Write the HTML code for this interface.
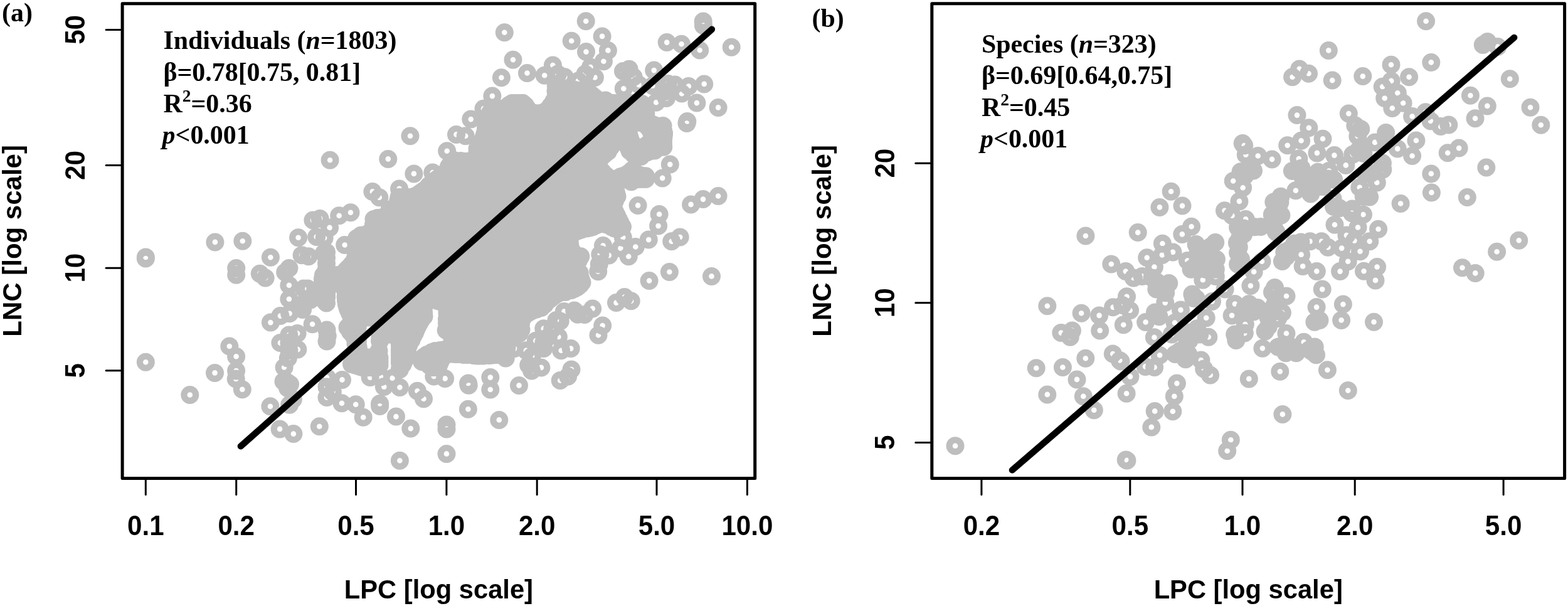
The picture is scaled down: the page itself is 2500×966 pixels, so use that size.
<!DOCTYPE html>
<html lang="en"><head><meta charset="utf-8"><title>LNC vs LPC scaling</title>
<style>
html,body{margin:0;padding:0;background:#fff;}
svg{display:block;}
.s{font-family:"Liberation Sans",Arial,Helvetica,sans-serif;font-weight:bold;font-size:41.7px;fill:#000;}
.t{font-family:"Liberation Serif","Times New Roman",Times,serif;font-weight:bold;font-size:41.9px;fill:#000;}
.i{font-style:italic;}
.p{fill:none;stroke:#bebebe;stroke-width:10.2;}
.ax{fill:none;stroke:#000;stroke-width:5;stroke-linejoin:round;}
.tk{fill:none;stroke:#000;stroke-width:3;stroke-linecap:round;}
.rl{fill:none;stroke:#000;stroke-width:10.4;stroke-linecap:round;}
</style></head><body>
<svg width="2500" height="966" viewBox="0 0 2500 966">
<rect x="0" y="0" width="2500" height="966" fill="#fff"/>
<g class="p"><circle cx="1121.2" cy="33.9" r="9.4"/><circle cx="1121.5" cy="40.7" r="9.4"/><circle cx="1063.2" cy="67.6" r="9.4"/><circle cx="1086.5" cy="70.2" r="9.4"/><circle cx="1115.7" cy="80.0" r="9.4"/><circle cx="1166.2" cy="75.3" r="9.4"/><circle cx="1042.7" cy="112.1" r="9.4"/><circle cx="1122.7" cy="133.9" r="9.4"/><circle cx="1097.9" cy="137.5" r="9.4"/><circle cx="1010.1" cy="122.7" r="9.4"/><circle cx="1003.1" cy="110.3" r="9.4"/><circle cx="1018.6" cy="135.1" r="9.4"/><circle cx="1040.4" cy="136.7" r="9.4"/><circle cx="1065.2" cy="133.6" r="9.4"/><circle cx="1076.1" cy="135.1" r="9.4"/><circle cx="1059.0" cy="146.0" r="9.4"/><circle cx="1087.0" cy="149.1" r="9.4"/><circle cx="1145.1" cy="171.4" r="9.4"/><circle cx="1110.9" cy="164.1" r="9.4"/><circle cx="1017.1" cy="327.4" r="9.4"/><circle cx="1051.1" cy="341.6" r="9.4"/><circle cx="1049.6" cy="360.1" r="9.4"/><circle cx="1034.2" cy="382.1" r="9.4"/><circle cx="1013.3" cy="393.5" r="9.4"/><circle cx="1101.6" cy="325.9" r="9.4"/><circle cx="1121.0" cy="317.6" r="9.4"/><circle cx="1145.1" cy="312.5" r="9.4"/><circle cx="1084.2" cy="378.0" r="9.4"/><circle cx="1070.7" cy="384.8" r="9.4"/><circle cx="1035.1" cy="447.5" r="9.4"/><circle cx="1067.4" cy="433.5" r="9.4"/><circle cx="1134.5" cy="440.4" r="9.4"/><circle cx="1002.2" cy="408.7" r="9.4"/><circle cx="232.3" cy="409.9" r="9.4"/><circle cx="232.3" cy="412.1" r="9.4"/><circle cx="342.9" cy="385.9" r="9.4"/><circle cx="386.8" cy="384.2" r="9.4"/><circle cx="431.4" cy="410.2" r="9.4"/><circle cx="475.6" cy="378.7" r="9.4"/><circle cx="498.9" cy="350.9" r="9.4"/><circle cx="376.7" cy="427.6" r="9.4"/><circle cx="376.7" cy="438.2" r="9.4"/><circle cx="414.3" cy="436.3" r="9.4"/><circle cx="423.1" cy="443.0" r="9.4"/><circle cx="460.9" cy="427.6" r="9.4"/><circle cx="454.7" cy="433.9" r="9.4"/><circle cx="481.1" cy="406.8" r="9.4"/><circle cx="491.9" cy="408.7" r="9.4"/><circle cx="232.3" cy="577.3" r="9.4"/><circle cx="365.8" cy="552.0" r="9.4"/><circle cx="376.6" cy="568.3" r="9.4"/><circle cx="342.5" cy="594.4" r="9.4"/><circle cx="376.6" cy="591.0" r="9.4"/><circle cx="431.4" cy="514.1" r="9.4"/><circle cx="446.9" cy="503.6" r="9.4"/><circle cx="461.6" cy="499.7" r="9.4"/><circle cx="460.9" cy="476.7" r="9.4"/><circle cx="460.9" cy="454.7" r="9.4"/><circle cx="484.2" cy="460.1" r="9.4"/><circle cx="490.4" cy="460.1" r="9.4"/><circle cx="482.6" cy="493.5" r="9.4"/><circle cx="495.0" cy="478.0" r="9.4"/><circle cx="498.1" cy="516.8" r="9.4"/><circle cx="460.9" cy="533.9" r="9.4"/><circle cx="474.1" cy="531.5" r="9.4"/><circle cx="446.9" cy="546.6" r="9.4"/><circle cx="460.9" cy="546.3" r="9.4"/><circle cx="474.8" cy="557.1" r="9.4"/><circle cx="460.9" cy="558.7" r="9.4"/><circle cx="459.3" cy="571.1" r="9.4"/><circle cx="453.1" cy="585.4" r="9.4"/><circle cx="302.8" cy="629.5" r="9.4"/><circle cx="386.3" cy="620.7" r="9.4"/><circle cx="376.2" cy="603.9" r="9.4"/><circle cx="430.9" cy="647.8" r="9.4"/><circle cx="446.1" cy="683.9" r="9.4"/><circle cx="467.9" cy="691.6" r="9.4"/><circle cx="457.8" cy="609.3" r="9.4"/><circle cx="458.5" cy="618.6" r="9.4"/><circle cx="467.4" cy="636.5" r="9.4"/><circle cx="461.6" cy="645.3" r="9.4"/><circle cx="526.1" cy="255.3" r="9.4"/><circle cx="618.8" cy="253.4" r="9.4"/><circle cx="654.0" cy="216.8" r="9.4"/><circle cx="659.9" cy="276.9" r="9.4"/><circle cx="784.9" cy="153.1" r="9.4"/><circle cx="689.8" cy="275.0" r="9.4"/><circle cx="712.7" cy="240.8" r="9.4"/><circle cx="727.5" cy="214.4" r="9.4"/><circle cx="750.8" cy="190.1" r="9.4"/><circle cx="771.0" cy="173.3" r="9.4"/><circle cx="790.4" cy="174.8" r="9.4"/><circle cx="636.6" cy="300.9" r="9.4"/><circle cx="742.2" cy="216.8" r="9.4"/><circle cx="723.6" cy="255.6" r="9.4"/><circle cx="593.9" cy="305.4" r="9.4"/><circle cx="604.8" cy="314.8" r="9.4"/><circle cx="621.1" cy="333.9" r="9.4"/><circle cx="559.0" cy="338.8" r="9.4"/><circle cx="540.7" cy="343.8" r="9.4"/><circle cx="510.1" cy="348.4" r="9.4"/><circle cx="525.6" cy="362.9" r="9.4"/><circle cx="517.1" cy="379.2" r="9.4"/><circle cx="549.7" cy="390.5" r="9.4"/><circle cx="504.7" cy="377.6" r="9.4"/><circle cx="521.0" cy="543.9" r="9.4"/><circle cx="521.0" cy="526.1" r="9.4"/><circle cx="711.2" cy="526.4" r="9.4"/><circle cx="672.7" cy="576.6" r="9.4"/><circle cx="637.4" cy="589.0" r="9.4"/><circle cx="509.3" cy="679.7" r="9.4"/><circle cx="545.5" cy="605.4" r="9.4"/><circle cx="521.0" cy="616.8" r="9.4"/><circle cx="530.3" cy="624.8" r="9.4"/><circle cx="521.0" cy="633.4" r="9.4"/><circle cx="545.0" cy="642.7" r="9.4"/><circle cx="567.2" cy="644.7" r="9.4"/><circle cx="579.2" cy="665.2" r="9.4"/><circle cx="605.6" cy="643.5" r="9.4"/><circle cx="605.6" cy="647.4" r="9.4"/><circle cx="612.3" cy="616.6" r="9.4"/><circle cx="637.4" cy="617.5" r="9.4"/><circle cx="625.5" cy="602.8" r="9.4"/><circle cx="590.1" cy="601.6" r="9.4"/><circle cx="607.1" cy="600.8" r="9.4"/><circle cx="631.5" cy="664.1" r="9.4"/><circle cx="654.8" cy="683.1" r="9.4"/><circle cx="665.4" cy="623.3" r="9.4"/><circle cx="675.5" cy="635.7" r="9.4"/><circle cx="691.8" cy="600.0" r="9.4"/><circle cx="709.6" cy="603.4" r="9.4"/><circle cx="746.6" cy="610.9" r="9.4"/><circle cx="747.2" cy="614.3" r="9.4"/><circle cx="781.8" cy="621.0" r="9.4"/><circle cx="781.8" cy="601.6" r="9.4"/><circle cx="746.4" cy="652.3" r="9.4"/><circle cx="712.0" cy="676.9" r="9.4"/><circle cx="712.0" cy="683.9" r="9.4"/><circle cx="795.8" cy="669.4" r="9.4"/><circle cx="712.0" cy="723.4" r="9.4"/><circle cx="637.4" cy="734.3" r="9.4"/><circle cx="804.3" cy="51.7" r="9.4"/><circle cx="818.0" cy="95.2" r="9.4"/><circle cx="799.4" cy="123.8" r="9.4"/><circle cx="840.5" cy="116.5" r="9.4"/><circle cx="868.2" cy="120.3" r="9.4"/><circle cx="881.4" cy="104.0" r="9.4"/><circle cx="911.2" cy="65.2" r="9.4"/><circle cx="934.2" cy="33.7" r="9.4"/><circle cx="960.1" cy="57.9" r="9.4"/><circle cx="934.5" cy="82.6" r="9.4"/><circle cx="969.4" cy="80.4" r="9.4"/><circle cx="962.4" cy="97.8" r="9.4"/><circle cx="941.5" cy="107.1" r="9.4"/><circle cx="948.4" cy="123.4" r="9.4"/><circle cx="900.3" cy="122.7" r="9.4"/><circle cx="889.4" cy="118.0" r="9.4"/><circle cx="932.9" cy="118.0" r="9.4"/><circle cx="922.0" cy="128.9" r="9.4"/><circle cx="886.3" cy="136.6" r="9.4"/><circle cx="993.5" cy="113.4" r="9.4"/><circle cx="994.3" cy="141.3" r="9.4"/><circle cx="965.4" cy="160.1" r="9.4"/><circle cx="1046.1" cy="163.2" r="9.4"/><circle cx="1062.4" cy="156.5" r="9.4"/><circle cx="1095.8" cy="193.5" r="9.4"/><circle cx="1095.0" cy="196.6" r="9.4"/><circle cx="1057.8" cy="234.2" r="9.4"/><circle cx="1068.3" cy="262.1" r="9.4"/><circle cx="1056.2" cy="283.9" r="9.4"/><circle cx="1029.5" cy="280.7" r="9.4"/><circle cx="989.4" cy="281.7" r="9.4"/><circle cx="1022.0" cy="249.4" r="9.4"/><circle cx="1057.0" cy="200.5" r="9.4"/><circle cx="1058.5" cy="212.1" r="9.4"/><circle cx="1008.1" cy="271.1" r="9.4"/><circle cx="1006.5" cy="289.8" r="9.4"/><circle cx="1043.8" cy="240.1" r="9.4"/><circle cx="1029.8" cy="181.1" r="9.4"/><circle cx="1023.6" cy="165.5" r="9.4"/><circle cx="989.4" cy="395.8" r="9.4"/><circle cx="925.8" cy="408.7" r="9.4"/><circle cx="953.7" cy="432.8" r="9.4"/><circle cx="993.3" cy="378.4" r="9.4"/><circle cx="961.5" cy="391.6" r="9.4"/><circle cx="956.8" cy="405.6" r="9.4"/><circle cx="970.8" cy="407.1" r="9.4"/><circle cx="955.3" cy="421.1" r="9.4"/><circle cx="924.2" cy="435.1" r="9.4"/><circle cx="982.5" cy="482.6" r="9.4"/><circle cx="995.7" cy="473.6" r="9.4"/><circle cx="1006.2" cy="479.8" r="9.4"/><circle cx="944.7" cy="491.9" r="9.4"/><circle cx="915.7" cy="495.0" r="9.4"/><circle cx="899.4" cy="496.6" r="9.4"/><circle cx="932.0" cy="501.6" r="9.4"/><circle cx="921.1" cy="501.2" r="9.4"/><circle cx="960.7" cy="519.1" r="9.4"/><circle cx="954.0" cy="534.3" r="9.4"/><circle cx="893.2" cy="512.1" r="9.4"/><circle cx="887.0" cy="510.6" r="9.4"/><circle cx="866.8" cy="523.8" r="9.4"/><circle cx="890.4" cy="537.0" r="9.4"/><circle cx="874.5" cy="537.0" r="9.4"/><circle cx="910.2" cy="555.6" r="9.4"/><circle cx="894.7" cy="558.7" r="9.4"/><circle cx="866.8" cy="555.6" r="9.4"/><circle cx="866.8" cy="546.3" r="9.4"/><circle cx="820.2" cy="555.6" r="9.4"/><circle cx="806.2" cy="571.1" r="9.4"/><circle cx="842.7" cy="582.0" r="9.4"/><circle cx="862.9" cy="585.9" r="9.4"/><circle cx="848.1" cy="568.0" r="9.4"/><circle cx="911.0" cy="589.0" r="9.4"/><circle cx="880.7" cy="524.5" r="9.4"/><circle cx="854.3" cy="543.2" r="9.4"/><circle cx="838.8" cy="558.7" r="9.4"/><circle cx="827.5" cy="614.4" r="9.4"/><circle cx="893.2" cy="606.5" r="9.4"/><circle cx="905.6" cy="600.0" r="9.4"/><circle cx="520.5" cy="402.0" r="9.4"/><circle cx="520.5" cy="411.0" r="9.4"/><circle cx="520.5" cy="420.0" r="9.4"/><circle cx="520.5" cy="429.0" r="9.4"/><circle cx="520.5" cy="438.0" r="9.4"/><circle cx="520.5" cy="447.0" r="9.4"/><circle cx="520.5" cy="456.0" r="9.4"/><circle cx="520.5" cy="465.0" r="9.4"/><circle cx="520.5" cy="474.0" r="9.4"/><circle cx="520.5" cy="483.0" r="9.4"/><circle cx="521.1" cy="601.8" r="9.4"/><circle cx="847.6" cy="591.1" r="9.4"/><circle cx="452.0" cy="608.0" r="9.4"/><circle cx="462.5" cy="612.5" r="9.4"/><circle cx="897.0" cy="149.3" r="9.4"/><circle cx="904.1" cy="148.3" r="9.4"/><circle cx="912.1" cy="149.6" r="9.4"/><circle cx="921.2" cy="147.7" r="9.4"/><circle cx="930.3" cy="149.4" r="9.4"/><circle cx="891.0" cy="155.5" r="9.4"/><circle cx="900.3" cy="157.1" r="9.4"/><circle cx="910.0" cy="156.4" r="9.4"/><circle cx="917.0" cy="155.6" r="9.4"/><circle cx="927.0" cy="156.1" r="9.4"/><circle cx="936.8" cy="155.4" r="9.4"/><circle cx="945.2" cy="156.4" r="9.4"/><circle cx="832.8" cy="164.6" r="9.4"/><circle cx="885.5" cy="164.6" r="9.4"/><circle cx="895.0" cy="163.9" r="9.4"/><circle cx="905.5" cy="165.1" r="9.4"/><circle cx="914.2" cy="162.7" r="9.4"/><circle cx="922.9" cy="164.1" r="9.4"/><circle cx="932.7" cy="164.4" r="9.4"/><circle cx="939.4" cy="164.1" r="9.4"/><circle cx="948.3" cy="163.5" r="9.4"/><circle cx="1013.8" cy="164.3" r="9.4"/><circle cx="1020.2" cy="164.7" r="9.4"/><circle cx="809.6" cy="170.8" r="9.4"/><circle cx="819.0" cy="170.1" r="9.4"/><circle cx="828.0" cy="170.7" r="9.4"/><circle cx="836.6" cy="171.3" r="9.4"/><circle cx="881.4" cy="171.2" r="9.4"/><circle cx="891.1" cy="170.2" r="9.4"/><circle cx="899.3" cy="170.1" r="9.4"/><circle cx="909.8" cy="170.0" r="9.4"/><circle cx="918.8" cy="170.4" r="9.4"/><circle cx="928.5" cy="171.0" r="9.4"/><circle cx="935.1" cy="170.3" r="9.4"/><circle cx="944.8" cy="170.7" r="9.4"/><circle cx="955.3" cy="170.1" r="9.4"/><circle cx="962.7" cy="170.9" r="9.4"/><circle cx="972.5" cy="171.5" r="9.4"/><circle cx="980.1" cy="171.9" r="9.4"/><circle cx="989.2" cy="171.6" r="9.4"/><circle cx="1000.1" cy="170.7" r="9.4"/><circle cx="1007.6" cy="172.9" r="9.4"/><circle cx="1015.8" cy="171.2" r="9.4"/><circle cx="786.8" cy="178.2" r="9.4"/><circle cx="797.7" cy="180.7" r="9.4"/><circle cx="805.8" cy="180.5" r="9.4"/><circle cx="813.1" cy="178.5" r="9.4"/><circle cx="823.1" cy="177.9" r="9.4"/><circle cx="832.9" cy="180.3" r="9.4"/><circle cx="842.7" cy="179.7" r="9.4"/><circle cx="851.9" cy="180.7" r="9.4"/><circle cx="876.2" cy="178.2" r="9.4"/><circle cx="887.5" cy="180.0" r="9.4"/><circle cx="895.7" cy="180.4" r="9.4"/><circle cx="904.1" cy="178.7" r="9.4"/><circle cx="914.4" cy="179.9" r="9.4"/><circle cx="922.1" cy="180.6" r="9.4"/><circle cx="931.9" cy="178.2" r="9.4"/><circle cx="939.9" cy="179.7" r="9.4"/><circle cx="950.2" cy="178.6" r="9.4"/><circle cx="959.7" cy="178.0" r="9.4"/><circle cx="969.0" cy="178.4" r="9.4"/><circle cx="977.5" cy="180.5" r="9.4"/><circle cx="986.8" cy="180.3" r="9.4"/><circle cx="995.7" cy="180.3" r="9.4"/><circle cx="1002.6" cy="179.6" r="9.4"/><circle cx="1012.2" cy="179.8" r="9.4"/><circle cx="1020.9" cy="179.0" r="9.4"/><circle cx="783.3" cy="188.4" r="9.4"/><circle cx="791.0" cy="186.0" r="9.4"/><circle cx="802.2" cy="186.1" r="9.4"/><circle cx="808.9" cy="186.6" r="9.4"/><circle cx="820.2" cy="188.4" r="9.4"/><circle cx="827.3" cy="185.8" r="9.4"/><circle cx="837.8" cy="188.3" r="9.4"/><circle cx="844.5" cy="186.5" r="9.4"/><circle cx="853.7" cy="187.8" r="9.4"/><circle cx="864.4" cy="186.7" r="9.4"/><circle cx="873.5" cy="185.7" r="9.4"/><circle cx="881.5" cy="186.2" r="9.4"/><circle cx="890.1" cy="187.6" r="9.4"/><circle cx="899.1" cy="187.8" r="9.4"/><circle cx="908.1" cy="186.3" r="9.4"/><circle cx="916.7" cy="185.7" r="9.4"/><circle cx="928.1" cy="188.1" r="9.4"/><circle cx="936.2" cy="187.8" r="9.4"/><circle cx="943.9" cy="187.2" r="9.4"/><circle cx="954.3" cy="187.4" r="9.4"/><circle cx="963.1" cy="185.8" r="9.4"/><circle cx="972.5" cy="187.1" r="9.4"/><circle cx="982.3" cy="186.0" r="9.4"/><circle cx="990.5" cy="188.0" r="9.4"/><circle cx="997.8" cy="187.2" r="9.4"/><circle cx="1007.2" cy="188.1" r="9.4"/><circle cx="1015.8" cy="187.2" r="9.4"/><circle cx="777.5" cy="193.5" r="9.4"/><circle cx="786.4" cy="194.4" r="9.4"/><circle cx="797.0" cy="194.2" r="9.4"/><circle cx="806.0" cy="194.9" r="9.4"/><circle cx="814.5" cy="194.7" r="9.4"/><circle cx="822.2" cy="194.8" r="9.4"/><circle cx="833.8" cy="195.7" r="9.4"/><circle cx="840.3" cy="194.3" r="9.4"/><circle cx="851.6" cy="194.1" r="9.4"/><circle cx="858.9" cy="194.6" r="9.4"/><circle cx="869.0" cy="193.8" r="9.4"/><circle cx="877.5" cy="193.7" r="9.4"/><circle cx="887.5" cy="195.1" r="9.4"/><circle cx="896.8" cy="194.3" r="9.4"/><circle cx="903.9" cy="195.5" r="9.4"/><circle cx="912.6" cy="195.9" r="9.4"/><circle cx="922.2" cy="194.0" r="9.4"/><circle cx="930.9" cy="196.2" r="9.4"/><circle cx="941.0" cy="195.3" r="9.4"/><circle cx="951.0" cy="194.0" r="9.4"/><circle cx="958.5" cy="194.2" r="9.4"/><circle cx="967.3" cy="195.9" r="9.4"/><circle cx="976.4" cy="194.5" r="9.4"/><circle cx="985.1" cy="193.9" r="9.4"/><circle cx="993.1" cy="193.8" r="9.4"/><circle cx="1003.0" cy="194.7" r="9.4"/><circle cx="1012.6" cy="194.6" r="9.4"/><circle cx="1022.4" cy="194.4" r="9.4"/><circle cx="1030.6" cy="194.6" r="9.4"/><circle cx="784.5" cy="203.8" r="9.4"/><circle cx="791.4" cy="201.4" r="9.4"/><circle cx="799.9" cy="204.1" r="9.4"/><circle cx="811.0" cy="202.1" r="9.4"/><circle cx="818.5" cy="202.6" r="9.4"/><circle cx="826.5" cy="203.1" r="9.4"/><circle cx="837.3" cy="201.2" r="9.4"/><circle cx="846.0" cy="201.8" r="9.4"/><circle cx="854.5" cy="204.1" r="9.4"/><circle cx="865.3" cy="201.3" r="9.4"/><circle cx="871.8" cy="203.9" r="9.4"/><circle cx="882.8" cy="204.0" r="9.4"/><circle cx="891.1" cy="204.0" r="9.4"/><circle cx="899.8" cy="201.7" r="9.4"/><circle cx="910.0" cy="203.1" r="9.4"/><circle cx="916.6" cy="202.5" r="9.4"/><circle cx="927.1" cy="203.2" r="9.4"/><circle cx="937.0" cy="201.4" r="9.4"/><circle cx="945.2" cy="201.2" r="9.4"/><circle cx="954.7" cy="203.2" r="9.4"/><circle cx="962.5" cy="201.4" r="9.4"/><circle cx="970.9" cy="204.0" r="9.4"/><circle cx="981.3" cy="202.7" r="9.4"/><circle cx="988.8" cy="201.6" r="9.4"/><circle cx="999.8" cy="202.7" r="9.4"/><circle cx="1034.4" cy="202.7" r="9.4"/><circle cx="1045.1" cy="204.0" r="9.4"/><circle cx="1052.8" cy="203.4" r="9.4"/><circle cx="779.8" cy="210.2" r="9.4"/><circle cx="786.4" cy="211.0" r="9.4"/><circle cx="797.4" cy="211.6" r="9.4"/><circle cx="806.4" cy="211.7" r="9.4"/><circle cx="815.4" cy="209.6" r="9.4"/><circle cx="823.3" cy="211.3" r="9.4"/><circle cx="831.0" cy="210.8" r="9.4"/><circle cx="841.2" cy="211.6" r="9.4"/><circle cx="849.3" cy="209.1" r="9.4"/><circle cx="859.8" cy="210.3" r="9.4"/><circle cx="869.7" cy="209.6" r="9.4"/><circle cx="878.7" cy="211.0" r="9.4"/><circle cx="886.1" cy="211.4" r="9.4"/><circle cx="896.3" cy="211.0" r="9.4"/><circle cx="905.3" cy="210.7" r="9.4"/><circle cx="914.9" cy="210.5" r="9.4"/><circle cx="921.3" cy="209.6" r="9.4"/><circle cx="932.7" cy="209.6" r="9.4"/><circle cx="941.5" cy="209.5" r="9.4"/><circle cx="949.6" cy="209.5" r="9.4"/><circle cx="959.0" cy="211.4" r="9.4"/><circle cx="968.5" cy="211.3" r="9.4"/><circle cx="975.1" cy="210.7" r="9.4"/><circle cx="985.0" cy="211.9" r="9.4"/><circle cx="994.5" cy="211.2" r="9.4"/><circle cx="1039.0" cy="209.0" r="9.4"/><circle cx="1048.9" cy="211.0" r="9.4"/><circle cx="773.8" cy="218.2" r="9.4"/><circle cx="784.3" cy="218.5" r="9.4"/><circle cx="790.9" cy="219.0" r="9.4"/><circle cx="799.8" cy="217.6" r="9.4"/><circle cx="810.6" cy="216.9" r="9.4"/><circle cx="820.3" cy="218.5" r="9.4"/><circle cx="828.4" cy="217.4" r="9.4"/><circle cx="838.0" cy="216.8" r="9.4"/><circle cx="846.2" cy="219.0" r="9.4"/><circle cx="854.6" cy="217.5" r="9.4"/><circle cx="864.5" cy="218.4" r="9.4"/><circle cx="874.2" cy="218.3" r="9.4"/><circle cx="883.3" cy="217.1" r="9.4"/><circle cx="889.9" cy="216.9" r="9.4"/><circle cx="899.2" cy="219.2" r="9.4"/><circle cx="910.4" cy="218.6" r="9.4"/><circle cx="918.6" cy="217.0" r="9.4"/><circle cx="928.4" cy="218.4" r="9.4"/><circle cx="936.8" cy="218.4" r="9.4"/><circle cx="944.6" cy="219.3" r="9.4"/><circle cx="952.7" cy="218.9" r="9.4"/><circle cx="962.2" cy="217.7" r="9.4"/><circle cx="971.6" cy="217.1" r="9.4"/><circle cx="980.3" cy="218.0" r="9.4"/><circle cx="991.0" cy="217.2" r="9.4"/><circle cx="999.7" cy="216.8" r="9.4"/><circle cx="1043.3" cy="218.0" r="9.4"/><circle cx="1052.3" cy="219.3" r="9.4"/><circle cx="770.3" cy="226.5" r="9.4"/><circle cx="778.4" cy="225.5" r="9.4"/><circle cx="788.4" cy="226.5" r="9.4"/><circle cx="797.4" cy="225.2" r="9.4"/><circle cx="805.6" cy="226.5" r="9.4"/><circle cx="813.7" cy="227.4" r="9.4"/><circle cx="823.9" cy="227.0" r="9.4"/><circle cx="832.6" cy="227.3" r="9.4"/><circle cx="841.2" cy="225.0" r="9.4"/><circle cx="851.6" cy="225.3" r="9.4"/><circle cx="858.2" cy="224.7" r="9.4"/><circle cx="868.5" cy="226.6" r="9.4"/><circle cx="877.5" cy="225.8" r="9.4"/><circle cx="886.3" cy="227.3" r="9.4"/><circle cx="896.0" cy="224.9" r="9.4"/><circle cx="903.9" cy="225.6" r="9.4"/><circle cx="912.8" cy="227.1" r="9.4"/><circle cx="923.8" cy="227.2" r="9.4"/><circle cx="931.7" cy="227.1" r="9.4"/><circle cx="940.8" cy="226.0" r="9.4"/><circle cx="948.1" cy="227.4" r="9.4"/><circle cx="958.1" cy="224.6" r="9.4"/><circle cx="968.0" cy="226.9" r="9.4"/><circle cx="976.2" cy="227.0" r="9.4"/><circle cx="1002.9" cy="224.5" r="9.4"/><circle cx="1039.2" cy="227.1" r="9.4"/><circle cx="1048.6" cy="225.3" r="9.4"/><circle cx="765.2" cy="234.0" r="9.4"/><circle cx="774.1" cy="235.1" r="9.4"/><circle cx="783.1" cy="233.6" r="9.4"/><circle cx="792.5" cy="234.3" r="9.4"/><circle cx="801.3" cy="233.3" r="9.4"/><circle cx="809.5" cy="234.4" r="9.4"/><circle cx="818.8" cy="234.9" r="9.4"/><circle cx="827.0" cy="233.2" r="9.4"/><circle cx="836.9" cy="233.8" r="9.4"/><circle cx="846.1" cy="234.8" r="9.4"/><circle cx="854.0" cy="233.6" r="9.4"/><circle cx="862.8" cy="234.0" r="9.4"/><circle cx="871.7" cy="232.9" r="9.4"/><circle cx="882.1" cy="232.4" r="9.4"/><circle cx="892.1" cy="234.3" r="9.4"/><circle cx="901.1" cy="233.4" r="9.4"/><circle cx="910.2" cy="232.7" r="9.4"/><circle cx="916.7" cy="232.5" r="9.4"/><circle cx="928.4" cy="235.2" r="9.4"/><circle cx="937.4" cy="233.1" r="9.4"/><circle cx="945.7" cy="232.4" r="9.4"/><circle cx="953.0" cy="232.6" r="9.4"/><circle cx="963.6" cy="234.2" r="9.4"/><circle cx="973.0" cy="235.0" r="9.4"/><circle cx="1006.7" cy="234.1" r="9.4"/><circle cx="1034.9" cy="234.1" r="9.4"/><circle cx="1043.6" cy="232.6" r="9.4"/><circle cx="762.0" cy="240.5" r="9.4"/><circle cx="770.8" cy="243.1" r="9.4"/><circle cx="777.6" cy="241.8" r="9.4"/><circle cx="786.3" cy="242.0" r="9.4"/><circle cx="795.2" cy="242.1" r="9.4"/><circle cx="806.0" cy="240.4" r="9.4"/><circle cx="815.6" cy="240.6" r="9.4"/><circle cx="824.8" cy="241.8" r="9.4"/><circle cx="834.0" cy="240.8" r="9.4"/><circle cx="842.2" cy="241.1" r="9.4"/><circle cx="850.8" cy="242.1" r="9.4"/><circle cx="860.9" cy="241.9" r="9.4"/><circle cx="868.9" cy="241.0" r="9.4"/><circle cx="878.4" cy="242.6" r="9.4"/><circle cx="886.2" cy="242.1" r="9.4"/><circle cx="894.9" cy="241.6" r="9.4"/><circle cx="904.2" cy="242.3" r="9.4"/><circle cx="913.3" cy="240.6" r="9.4"/><circle cx="922.9" cy="241.3" r="9.4"/><circle cx="930.3" cy="241.1" r="9.4"/><circle cx="940.9" cy="241.7" r="9.4"/><circle cx="950.3" cy="243.0" r="9.4"/><circle cx="957.8" cy="240.6" r="9.4"/><circle cx="966.3" cy="242.0" r="9.4"/><circle cx="1012.4" cy="240.7" r="9.4"/><circle cx="1020.2" cy="241.1" r="9.4"/><circle cx="1029.5" cy="240.6" r="9.4"/><circle cx="765.5" cy="248.9" r="9.4"/><circle cx="772.8" cy="248.4" r="9.4"/><circle cx="783.8" cy="249.6" r="9.4"/><circle cx="790.9" cy="249.7" r="9.4"/><circle cx="801.2" cy="250.0" r="9.4"/><circle cx="810.5" cy="248.0" r="9.4"/><circle cx="819.1" cy="249.4" r="9.4"/><circle cx="828.3" cy="250.0" r="9.4"/><circle cx="837.4" cy="248.5" r="9.4"/><circle cx="846.9" cy="250.7" r="9.4"/><circle cx="856.3" cy="248.1" r="9.4"/><circle cx="864.9" cy="250.2" r="9.4"/><circle cx="874.2" cy="248.2" r="9.4"/><circle cx="880.7" cy="249.6" r="9.4"/><circle cx="891.1" cy="249.9" r="9.4"/><circle cx="900.0" cy="249.2" r="9.4"/><circle cx="909.7" cy="250.2" r="9.4"/><circle cx="916.7" cy="250.7" r="9.4"/><circle cx="928.2" cy="249.4" r="9.4"/><circle cx="936.4" cy="250.8" r="9.4"/><circle cx="945.8" cy="249.3" r="9.4"/><circle cx="952.8" cy="248.3" r="9.4"/><circle cx="734.1" cy="257.6" r="9.4"/><circle cx="742.4" cy="258.1" r="9.4"/><circle cx="750.8" cy="256.5" r="9.4"/><circle cx="759.4" cy="257.3" r="9.4"/><circle cx="768.8" cy="257.8" r="9.4"/><circle cx="778.0" cy="257.6" r="9.4"/><circle cx="788.0" cy="257.2" r="9.4"/><circle cx="797.1" cy="256.5" r="9.4"/><circle cx="804.8" cy="258.7" r="9.4"/><circle cx="813.7" cy="256.3" r="9.4"/><circle cx="824.6" cy="256.0" r="9.4"/><circle cx="833.0" cy="258.5" r="9.4"/><circle cx="840.1" cy="258.0" r="9.4"/><circle cx="849.8" cy="257.9" r="9.4"/><circle cx="860.8" cy="256.2" r="9.4"/><circle cx="869.0" cy="258.1" r="9.4"/><circle cx="878.0" cy="257.0" r="9.4"/><circle cx="887.0" cy="258.6" r="9.4"/><circle cx="896.2" cy="255.9" r="9.4"/><circle cx="903.5" cy="258.4" r="9.4"/><circle cx="915.0" cy="257.4" r="9.4"/><circle cx="923.1" cy="256.2" r="9.4"/><circle cx="930.1" cy="256.5" r="9.4"/><circle cx="941.0" cy="258.0" r="9.4"/><circle cx="948.0" cy="257.3" r="9.4"/><circle cx="720.9" cy="264.3" r="9.4"/><circle cx="729.7" cy="265.8" r="9.4"/><circle cx="738.0" cy="263.8" r="9.4"/><circle cx="746.8" cy="264.1" r="9.4"/><circle cx="756.5" cy="264.4" r="9.4"/><circle cx="765.3" cy="263.7" r="9.4"/><circle cx="774.7" cy="266.0" r="9.4"/><circle cx="782.7" cy="263.7" r="9.4"/><circle cx="791.8" cy="265.9" r="9.4"/><circle cx="802.5" cy="265.5" r="9.4"/><circle cx="810.0" cy="264.5" r="9.4"/><circle cx="819.6" cy="265.9" r="9.4"/><circle cx="828.8" cy="264.8" r="9.4"/><circle cx="838.2" cy="264.5" r="9.4"/><circle cx="846.2" cy="263.5" r="9.4"/><circle cx="854.6" cy="265.8" r="9.4"/><circle cx="864.0" cy="264.4" r="9.4"/><circle cx="873.3" cy="266.3" r="9.4"/><circle cx="880.8" cy="264.3" r="9.4"/><circle cx="891.6" cy="265.6" r="9.4"/><circle cx="901.4" cy="265.8" r="9.4"/><circle cx="909.5" cy="265.6" r="9.4"/><circle cx="917.3" cy="264.9" r="9.4"/><circle cx="927.5" cy="263.6" r="9.4"/><circle cx="934.6" cy="263.5" r="9.4"/><circle cx="946.2" cy="263.6" r="9.4"/><circle cx="954.4" cy="264.5" r="9.4"/><circle cx="715.8" cy="271.9" r="9.4"/><circle cx="725.5" cy="274.0" r="9.4"/><circle cx="732.3" cy="273.5" r="9.4"/><circle cx="744.0" cy="272.2" r="9.4"/><circle cx="750.4" cy="272.0" r="9.4"/><circle cx="760.1" cy="273.2" r="9.4"/><circle cx="769.9" cy="272.9" r="9.4"/><circle cx="779.3" cy="273.0" r="9.4"/><circle cx="786.5" cy="272.8" r="9.4"/><circle cx="797.8" cy="271.6" r="9.4"/><circle cx="804.8" cy="273.2" r="9.4"/><circle cx="814.8" cy="274.0" r="9.4"/><circle cx="824.4" cy="272.0" r="9.4"/><circle cx="832.1" cy="272.1" r="9.4"/><circle cx="842.9" cy="272.7" r="9.4"/><circle cx="851.8" cy="272.2" r="9.4"/><circle cx="859.4" cy="272.5" r="9.4"/><circle cx="868.4" cy="273.8" r="9.4"/><circle cx="876.8" cy="272.9" r="9.4"/><circle cx="885.9" cy="272.2" r="9.4"/><circle cx="896.0" cy="272.7" r="9.4"/><circle cx="905.0" cy="273.9" r="9.4"/><circle cx="914.4" cy="273.6" r="9.4"/><circle cx="921.7" cy="273.4" r="9.4"/><circle cx="931.0" cy="271.9" r="9.4"/><circle cx="941.4" cy="273.8" r="9.4"/><circle cx="950.9" cy="273.7" r="9.4"/><circle cx="957.0" cy="272.9" r="9.4"/><circle cx="710.0" cy="281.1" r="9.4"/><circle cx="718.6" cy="280.7" r="9.4"/><circle cx="728.8" cy="279.3" r="9.4"/><circle cx="739.1" cy="281.2" r="9.4"/><circle cx="746.4" cy="281.9" r="9.4"/><circle cx="756.3" cy="281.6" r="9.4"/><circle cx="763.6" cy="280.0" r="9.4"/><circle cx="773.5" cy="279.5" r="9.4"/><circle cx="783.5" cy="279.9" r="9.4"/><circle cx="792.5" cy="281.9" r="9.4"/><circle cx="801.3" cy="280.2" r="9.4"/><circle cx="809.2" cy="281.1" r="9.4"/><circle cx="819.2" cy="281.4" r="9.4"/><circle cx="829.0" cy="281.2" r="9.4"/><circle cx="836.8" cy="279.4" r="9.4"/><circle cx="844.8" cy="279.9" r="9.4"/><circle cx="856.0" cy="281.1" r="9.4"/><circle cx="865.2" cy="280.6" r="9.4"/><circle cx="872.8" cy="280.8" r="9.4"/><circle cx="880.8" cy="279.6" r="9.4"/><circle cx="890.5" cy="280.5" r="9.4"/><circle cx="898.6" cy="281.1" r="9.4"/><circle cx="909.7" cy="279.9" r="9.4"/><circle cx="917.6" cy="280.9" r="9.4"/><circle cx="925.6" cy="281.8" r="9.4"/><circle cx="936.9" cy="279.4" r="9.4"/><circle cx="945.4" cy="280.3" r="9.4"/><circle cx="955.0" cy="280.4" r="9.4"/><circle cx="962.1" cy="279.7" r="9.4"/><circle cx="1000.1" cy="280.8" r="9.4"/><circle cx="1007.5" cy="281.2" r="9.4"/><circle cx="1018.4" cy="279.8" r="9.4"/><circle cx="697.6" cy="288.6" r="9.4"/><circle cx="705.1" cy="288.2" r="9.4"/><circle cx="715.6" cy="288.4" r="9.4"/><circle cx="723.8" cy="288.1" r="9.4"/><circle cx="732.3" cy="287.5" r="9.4"/><circle cx="743.7" cy="287.3" r="9.4"/><circle cx="751.3" cy="288.9" r="9.4"/><circle cx="761.1" cy="287.2" r="9.4"/><circle cx="769.1" cy="287.0" r="9.4"/><circle cx="778.1" cy="288.2" r="9.4"/><circle cx="788.0" cy="289.2" r="9.4"/><circle cx="796.9" cy="289.3" r="9.4"/><circle cx="806.7" cy="289.3" r="9.4"/><circle cx="815.8" cy="288.7" r="9.4"/><circle cx="824.0" cy="287.8" r="9.4"/><circle cx="832.3" cy="288.2" r="9.4"/><circle cx="840.7" cy="288.4" r="9.4"/><circle cx="851.4" cy="288.6" r="9.4"/><circle cx="861.0" cy="289.2" r="9.4"/><circle cx="869.8" cy="289.1" r="9.4"/><circle cx="876.8" cy="289.1" r="9.4"/><circle cx="886.0" cy="287.7" r="9.4"/><circle cx="896.5" cy="289.2" r="9.4"/><circle cx="903.7" cy="289.3" r="9.4"/><circle cx="912.5" cy="288.6" r="9.4"/><circle cx="922.8" cy="287.7" r="9.4"/><circle cx="930.6" cy="289.5" r="9.4"/><circle cx="940.1" cy="289.4" r="9.4"/><circle cx="948.5" cy="287.5" r="9.4"/><circle cx="958.0" cy="289.9" r="9.4"/><circle cx="967.1" cy="288.9" r="9.4"/><circle cx="976.1" cy="286.9" r="9.4"/><circle cx="986.7" cy="287.9" r="9.4"/><circle cx="684.3" cy="295.6" r="9.4"/><circle cx="692.1" cy="297.1" r="9.4"/><circle cx="702.5" cy="296.6" r="9.4"/><circle cx="711.9" cy="295.4" r="9.4"/><circle cx="720.1" cy="295.9" r="9.4"/><circle cx="729.1" cy="295.5" r="9.4"/><circle cx="737.7" cy="296.8" r="9.4"/><circle cx="745.6" cy="295.0" r="9.4"/><circle cx="757.1" cy="297.3" r="9.4"/><circle cx="765.1" cy="296.1" r="9.4"/><circle cx="774.8" cy="297.6" r="9.4"/><circle cx="781.7" cy="295.9" r="9.4"/><circle cx="792.5" cy="294.8" r="9.4"/><circle cx="800.6" cy="295.9" r="9.4"/><circle cx="808.7" cy="295.5" r="9.4"/><circle cx="818.2" cy="295.3" r="9.4"/><circle cx="827.7" cy="297.2" r="9.4"/><circle cx="838.4" cy="295.5" r="9.4"/><circle cx="845.2" cy="296.8" r="9.4"/><circle cx="854.3" cy="294.9" r="9.4"/><circle cx="864.9" cy="295.6" r="9.4"/><circle cx="874.5" cy="294.7" r="9.4"/><circle cx="882.0" cy="296.9" r="9.4"/><circle cx="892.4" cy="296.9" r="9.4"/><circle cx="899.0" cy="297.4" r="9.4"/><circle cx="909.0" cy="297.3" r="9.4"/><circle cx="917.6" cy="295.8" r="9.4"/><circle cx="927.6" cy="296.6" r="9.4"/><circle cx="937.2" cy="297.5" r="9.4"/><circle cx="945.3" cy="294.9" r="9.4"/><circle cx="953.6" cy="295.7" r="9.4"/><circle cx="962.4" cy="296.0" r="9.4"/><circle cx="971.7" cy="295.6" r="9.4"/><circle cx="981.6" cy="297.4" r="9.4"/><circle cx="678.4" cy="303.8" r="9.4"/><circle cx="689.7" cy="304.0" r="9.4"/><circle cx="696.2" cy="304.1" r="9.4"/><circle cx="706.8" cy="304.8" r="9.4"/><circle cx="715.6" cy="304.4" r="9.4"/><circle cx="723.2" cy="303.0" r="9.4"/><circle cx="732.7" cy="302.9" r="9.4"/><circle cx="742.1" cy="303.5" r="9.4"/><circle cx="751.0" cy="304.6" r="9.4"/><circle cx="759.2" cy="303.0" r="9.4"/><circle cx="769.3" cy="303.3" r="9.4"/><circle cx="779.8" cy="302.5" r="9.4"/><circle cx="788.0" cy="303.7" r="9.4"/><circle cx="797.8" cy="302.7" r="9.4"/><circle cx="805.8" cy="303.1" r="9.4"/><circle cx="815.9" cy="304.3" r="9.4"/><circle cx="823.3" cy="303.5" r="9.4"/><circle cx="832.2" cy="303.4" r="9.4"/><circle cx="842.9" cy="303.7" r="9.4"/><circle cx="850.7" cy="305.2" r="9.4"/><circle cx="860.8" cy="303.3" r="9.4"/><circle cx="869.4" cy="302.5" r="9.4"/><circle cx="878.1" cy="302.6" r="9.4"/><circle cx="885.4" cy="304.0" r="9.4"/><circle cx="896.6" cy="302.6" r="9.4"/><circle cx="904.7" cy="302.8" r="9.4"/><circle cx="913.7" cy="304.5" r="9.4"/><circle cx="922.0" cy="303.6" r="9.4"/><circle cx="930.9" cy="303.3" r="9.4"/><circle cx="940.9" cy="304.0" r="9.4"/><circle cx="949.0" cy="303.7" r="9.4"/><circle cx="958.5" cy="303.5" r="9.4"/><circle cx="966.3" cy="304.6" r="9.4"/><circle cx="976.9" cy="302.7" r="9.4"/><circle cx="666.9" cy="310.8" r="9.4"/><circle cx="675.9" cy="312.4" r="9.4"/><circle cx="682.9" cy="313.1" r="9.4"/><circle cx="693.8" cy="312.5" r="9.4"/><circle cx="701.9" cy="310.4" r="9.4"/><circle cx="709.9" cy="312.4" r="9.4"/><circle cx="720.0" cy="310.9" r="9.4"/><circle cx="728.9" cy="310.7" r="9.4"/><circle cx="737.0" cy="312.0" r="9.4"/><circle cx="745.8" cy="312.0" r="9.4"/><circle cx="757.0" cy="311.2" r="9.4"/><circle cx="763.7" cy="310.7" r="9.4"/><circle cx="775.4" cy="312.3" r="9.4"/><circle cx="784.0" cy="312.1" r="9.4"/><circle cx="790.7" cy="311.4" r="9.4"/><circle cx="800.2" cy="311.2" r="9.4"/><circle cx="809.6" cy="311.2" r="9.4"/><circle cx="820.0" cy="313.0" r="9.4"/><circle cx="826.7" cy="311.0" r="9.4"/><circle cx="836.5" cy="313.2" r="9.4"/><circle cx="844.6" cy="312.6" r="9.4"/><circle cx="853.7" cy="312.9" r="9.4"/><circle cx="862.6" cy="311.3" r="9.4"/><circle cx="872.2" cy="312.9" r="9.4"/><circle cx="882.5" cy="310.8" r="9.4"/><circle cx="890.2" cy="312.1" r="9.4"/><circle cx="899.4" cy="313.2" r="9.4"/><circle cx="909.8" cy="312.3" r="9.4"/><circle cx="916.6" cy="313.1" r="9.4"/><circle cx="927.5" cy="312.8" r="9.4"/><circle cx="935.1" cy="310.4" r="9.4"/><circle cx="943.6" cy="313.1" r="9.4"/><circle cx="953.5" cy="311.7" r="9.4"/><circle cx="963.7" cy="312.5" r="9.4"/><circle cx="972.0" cy="311.9" r="9.4"/><circle cx="980.5" cy="313.1" r="9.4"/><circle cx="643.1" cy="320.5" r="9.4"/><circle cx="654.0" cy="319.2" r="9.4"/><circle cx="662.2" cy="320.5" r="9.4"/><circle cx="669.8" cy="319.0" r="9.4"/><circle cx="678.1" cy="319.4" r="9.4"/><circle cx="689.8" cy="318.3" r="9.4"/><circle cx="698.8" cy="318.9" r="9.4"/><circle cx="708.0" cy="321.0" r="9.4"/><circle cx="716.4" cy="318.4" r="9.4"/><circle cx="725.7" cy="319.2" r="9.4"/><circle cx="732.3" cy="320.7" r="9.4"/><circle cx="742.6" cy="319.2" r="9.4"/><circle cx="751.8" cy="319.1" r="9.4"/><circle cx="760.2" cy="320.4" r="9.4"/><circle cx="768.5" cy="318.2" r="9.4"/><circle cx="779.4" cy="320.5" r="9.4"/><circle cx="786.2" cy="318.6" r="9.4"/><circle cx="797.4" cy="319.3" r="9.4"/><circle cx="804.8" cy="318.9" r="9.4"/><circle cx="813.9" cy="318.5" r="9.4"/><circle cx="822.5" cy="320.6" r="9.4"/><circle cx="833.7" cy="318.1" r="9.4"/><circle cx="840.4" cy="319.3" r="9.4"/><circle cx="850.5" cy="318.1" r="9.4"/><circle cx="860.1" cy="321.0" r="9.4"/><circle cx="867.6" cy="319.5" r="9.4"/><circle cx="876.2" cy="318.4" r="9.4"/><circle cx="887.4" cy="318.2" r="9.4"/><circle cx="896.8" cy="319.2" r="9.4"/><circle cx="903.3" cy="320.8" r="9.4"/><circle cx="913.5" cy="320.2" r="9.4"/><circle cx="921.4" cy="321.0" r="9.4"/><circle cx="931.8" cy="319.9" r="9.4"/><circle cx="939.5" cy="319.0" r="9.4"/><circle cx="949.4" cy="318.8" r="9.4"/><circle cx="959.1" cy="319.2" r="9.4"/><circle cx="968.8" cy="320.7" r="9.4"/><circle cx="976.7" cy="318.4" r="9.4"/><circle cx="638.7" cy="328.8" r="9.4"/><circle cx="649.1" cy="326.9" r="9.4"/><circle cx="657.0" cy="327.9" r="9.4"/><circle cx="667.4" cy="328.4" r="9.4"/><circle cx="674.1" cy="327.6" r="9.4"/><circle cx="683.6" cy="328.3" r="9.4"/><circle cx="691.5" cy="326.9" r="9.4"/><circle cx="702.3" cy="326.5" r="9.4"/><circle cx="710.6" cy="326.5" r="9.4"/><circle cx="719.0" cy="327.8" r="9.4"/><circle cx="728.6" cy="327.9" r="9.4"/><circle cx="737.6" cy="325.9" r="9.4"/><circle cx="746.6" cy="327.2" r="9.4"/><circle cx="754.8" cy="327.5" r="9.4"/><circle cx="764.3" cy="326.7" r="9.4"/><circle cx="772.8" cy="327.2" r="9.4"/><circle cx="784.3" cy="328.6" r="9.4"/><circle cx="793.3" cy="328.9" r="9.4"/><circle cx="802.4" cy="328.3" r="9.4"/><circle cx="808.7" cy="327.5" r="9.4"/><circle cx="820.1" cy="328.7" r="9.4"/><circle cx="827.2" cy="327.0" r="9.4"/><circle cx="837.7" cy="326.0" r="9.4"/><circle cx="844.7" cy="328.1" r="9.4"/><circle cx="854.1" cy="328.8" r="9.4"/><circle cx="862.5" cy="327.5" r="9.4"/><circle cx="872.1" cy="328.0" r="9.4"/><circle cx="882.5" cy="325.9" r="9.4"/><circle cx="891.9" cy="326.3" r="9.4"/><circle cx="901.3" cy="328.2" r="9.4"/><circle cx="907.7" cy="326.3" r="9.4"/><circle cx="917.6" cy="327.8" r="9.4"/><circle cx="927.2" cy="327.4" r="9.4"/><circle cx="936.5" cy="328.2" r="9.4"/><circle cx="945.5" cy="328.8" r="9.4"/><circle cx="953.2" cy="325.9" r="9.4"/><circle cx="963.1" cy="326.4" r="9.4"/><circle cx="973.1" cy="328.5" r="9.4"/><circle cx="633.2" cy="334.1" r="9.4"/><circle cx="642.2" cy="335.0" r="9.4"/><circle cx="652.2" cy="336.4" r="9.4"/><circle cx="660.1" cy="335.1" r="9.4"/><circle cx="669.1" cy="333.8" r="9.4"/><circle cx="680.3" cy="336.1" r="9.4"/><circle cx="689.8" cy="336.1" r="9.4"/><circle cx="698.1" cy="334.0" r="9.4"/><circle cx="705.5" cy="333.9" r="9.4"/><circle cx="714.7" cy="334.4" r="9.4"/><circle cx="725.0" cy="334.6" r="9.4"/><circle cx="732.8" cy="334.6" r="9.4"/><circle cx="742.3" cy="334.7" r="9.4"/><circle cx="750.5" cy="336.2" r="9.4"/><circle cx="760.5" cy="334.3" r="9.4"/><circle cx="770.1" cy="333.7" r="9.4"/><circle cx="779.6" cy="334.5" r="9.4"/><circle cx="788.9" cy="334.9" r="9.4"/><circle cx="797.1" cy="333.8" r="9.4"/><circle cx="806.0" cy="335.4" r="9.4"/><circle cx="815.8" cy="334.6" r="9.4"/><circle cx="822.6" cy="336.1" r="9.4"/><circle cx="832.3" cy="334.7" r="9.4"/><circle cx="840.2" cy="336.1" r="9.4"/><circle cx="850.9" cy="334.6" r="9.4"/><circle cx="858.6" cy="336.4" r="9.4"/><circle cx="869.5" cy="335.5" r="9.4"/><circle cx="877.3" cy="334.8" r="9.4"/><circle cx="886.9" cy="335.2" r="9.4"/><circle cx="894.5" cy="336.0" r="9.4"/><circle cx="906.0" cy="335.5" r="9.4"/><circle cx="913.1" cy="335.4" r="9.4"/><circle cx="922.9" cy="335.3" r="9.4"/><circle cx="931.7" cy="335.1" r="9.4"/><circle cx="941.1" cy="333.9" r="9.4"/><circle cx="949.3" cy="335.7" r="9.4"/><circle cx="959.6" cy="336.2" r="9.4"/><circle cx="967.1" cy="334.4" r="9.4"/><circle cx="977.0" cy="335.3" r="9.4"/><circle cx="630.7" cy="343.2" r="9.4"/><circle cx="639.0" cy="342.0" r="9.4"/><circle cx="648.3" cy="344.4" r="9.4"/><circle cx="656.9" cy="342.8" r="9.4"/><circle cx="666.5" cy="342.1" r="9.4"/><circle cx="675.5" cy="343.9" r="9.4"/><circle cx="685.1" cy="342.7" r="9.4"/><circle cx="693.7" cy="342.1" r="9.4"/><circle cx="703.2" cy="343.3" r="9.4"/><circle cx="712.1" cy="343.6" r="9.4"/><circle cx="720.6" cy="344.0" r="9.4"/><circle cx="730.3" cy="342.8" r="9.4"/><circle cx="738.1" cy="344.0" r="9.4"/><circle cx="745.9" cy="341.5" r="9.4"/><circle cx="756.6" cy="343.3" r="9.4"/><circle cx="766.3" cy="343.8" r="9.4"/><circle cx="774.3" cy="344.1" r="9.4"/><circle cx="784.3" cy="344.3" r="9.4"/><circle cx="792.5" cy="341.9" r="9.4"/><circle cx="799.9" cy="341.9" r="9.4"/><circle cx="809.4" cy="344.3" r="9.4"/><circle cx="817.8" cy="344.0" r="9.4"/><circle cx="829.4" cy="342.2" r="9.4"/><circle cx="837.6" cy="343.2" r="9.4"/><circle cx="846.3" cy="343.6" r="9.4"/><circle cx="853.8" cy="341.8" r="9.4"/><circle cx="862.8" cy="342.0" r="9.4"/><circle cx="874.3" cy="342.9" r="9.4"/><circle cx="882.1" cy="343.4" r="9.4"/><circle cx="892.1" cy="344.1" r="9.4"/><circle cx="900.5" cy="342.8" r="9.4"/><circle cx="907.7" cy="341.6" r="9.4"/><circle cx="918.6" cy="341.6" r="9.4"/><circle cx="927.1" cy="344.2" r="9.4"/><circle cx="934.5" cy="342.1" r="9.4"/><circle cx="945.3" cy="341.9" r="9.4"/><circle cx="953.1" cy="344.2" r="9.4"/><circle cx="963.7" cy="343.2" r="9.4"/><circle cx="972.3" cy="344.0" r="9.4"/><circle cx="981.7" cy="341.7" r="9.4"/><circle cx="598.4" cy="351.8" r="9.4"/><circle cx="607.0" cy="349.7" r="9.4"/><circle cx="615.7" cy="351.9" r="9.4"/><circle cx="624.7" cy="351.4" r="9.4"/><circle cx="635.5" cy="349.6" r="9.4"/><circle cx="642.5" cy="351.2" r="9.4"/><circle cx="651.4" cy="349.3" r="9.4"/><circle cx="662.3" cy="350.9" r="9.4"/><circle cx="671.6" cy="351.3" r="9.4"/><circle cx="680.9" cy="351.9" r="9.4"/><circle cx="687.9" cy="351.7" r="9.4"/><circle cx="698.8" cy="350.5" r="9.4"/><circle cx="705.6" cy="350.2" r="9.4"/><circle cx="715.6" cy="349.7" r="9.4"/><circle cx="724.7" cy="351.2" r="9.4"/><circle cx="733.2" cy="351.2" r="9.4"/><circle cx="742.6" cy="350.2" r="9.4"/><circle cx="751.6" cy="350.0" r="9.4"/><circle cx="759.9" cy="349.7" r="9.4"/><circle cx="770.6" cy="349.3" r="9.4"/><circle cx="778.2" cy="352.1" r="9.4"/><circle cx="788.4" cy="349.6" r="9.4"/><circle cx="795.7" cy="351.1" r="9.4"/><circle cx="805.8" cy="349.5" r="9.4"/><circle cx="813.6" cy="352.2" r="9.4"/><circle cx="823.8" cy="350.4" r="9.4"/><circle cx="831.3" cy="351.8" r="9.4"/><circle cx="842.4" cy="352.0" r="9.4"/><circle cx="851.6" cy="349.3" r="9.4"/><circle cx="859.3" cy="351.3" r="9.4"/><circle cx="867.7" cy="350.5" r="9.4"/><circle cx="876.7" cy="351.4" r="9.4"/><circle cx="885.1" cy="349.4" r="9.4"/><circle cx="896.9" cy="349.6" r="9.4"/><circle cx="903.8" cy="350.6" r="9.4"/><circle cx="914.8" cy="350.4" r="9.4"/><circle cx="921.7" cy="351.9" r="9.4"/><circle cx="931.5" cy="349.7" r="9.4"/><circle cx="940.9" cy="352.0" r="9.4"/><circle cx="948.6" cy="349.6" r="9.4"/><circle cx="958.1" cy="350.8" r="9.4"/><circle cx="967.5" cy="352.0" r="9.4"/><circle cx="977.0" cy="350.9" r="9.4"/><circle cx="985.8" cy="349.5" r="9.4"/><circle cx="604.5" cy="357.1" r="9.4"/><circle cx="611.3" cy="357.8" r="9.4"/><circle cx="620.8" cy="359.4" r="9.4"/><circle cx="631.1" cy="359.3" r="9.4"/><circle cx="639.9" cy="358.5" r="9.4"/><circle cx="648.0" cy="358.6" r="9.4"/><circle cx="657.1" cy="359.8" r="9.4"/><circle cx="665.0" cy="359.3" r="9.4"/><circle cx="674.8" cy="359.3" r="9.4"/><circle cx="682.9" cy="360.0" r="9.4"/><circle cx="692.3" cy="359.9" r="9.4"/><circle cx="700.9" cy="359.2" r="9.4"/><circle cx="712.1" cy="357.7" r="9.4"/><circle cx="721.4" cy="358.1" r="9.4"/><circle cx="729.5" cy="357.9" r="9.4"/><circle cx="738.9" cy="359.8" r="9.4"/><circle cx="746.1" cy="359.8" r="9.4"/><circle cx="756.6" cy="360.0" r="9.4"/><circle cx="763.9" cy="357.8" r="9.4"/><circle cx="774.5" cy="359.3" r="9.4"/><circle cx="783.9" cy="359.5" r="9.4"/><circle cx="791.1" cy="357.4" r="9.4"/><circle cx="801.6" cy="358.8" r="9.4"/><circle cx="809.6" cy="359.9" r="9.4"/><circle cx="819.2" cy="357.6" r="9.4"/><circle cx="826.8" cy="359.6" r="9.4"/><circle cx="837.5" cy="359.2" r="9.4"/><circle cx="844.6" cy="359.1" r="9.4"/><circle cx="854.5" cy="358.9" r="9.4"/><circle cx="863.5" cy="358.0" r="9.4"/><circle cx="872.5" cy="357.6" r="9.4"/><circle cx="882.4" cy="359.8" r="9.4"/><circle cx="890.7" cy="359.9" r="9.4"/><circle cx="901.5" cy="357.2" r="9.4"/><circle cx="907.8" cy="358.0" r="9.4"/><circle cx="917.1" cy="359.6" r="9.4"/><circle cx="926.5" cy="358.5" r="9.4"/><circle cx="936.5" cy="357.3" r="9.4"/><circle cx="945.2" cy="359.2" r="9.4"/><circle cx="971.3" cy="358.1" r="9.4"/><circle cx="980.8" cy="357.1" r="9.4"/><circle cx="989.7" cy="357.8" r="9.4"/><circle cx="597.4" cy="367.1" r="9.4"/><circle cx="607.6" cy="366.9" r="9.4"/><circle cx="617.3" cy="367.5" r="9.4"/><circle cx="625.7" cy="365.7" r="9.4"/><circle cx="634.8" cy="365.8" r="9.4"/><circle cx="642.3" cy="367.1" r="9.4"/><circle cx="653.4" cy="366.7" r="9.4"/><circle cx="660.6" cy="367.6" r="9.4"/><circle cx="670.6" cy="366.5" r="9.4"/><circle cx="678.4" cy="365.5" r="9.4"/><circle cx="689.7" cy="366.7" r="9.4"/><circle cx="698.9" cy="367.0" r="9.4"/><circle cx="706.6" cy="366.9" r="9.4"/><circle cx="715.0" cy="365.4" r="9.4"/><circle cx="723.0" cy="366.7" r="9.4"/><circle cx="732.9" cy="367.7" r="9.4"/><circle cx="743.6" cy="367.0" r="9.4"/><circle cx="752.2" cy="367.7" r="9.4"/><circle cx="761.1" cy="366.4" r="9.4"/><circle cx="769.1" cy="366.8" r="9.4"/><circle cx="777.0" cy="365.0" r="9.4"/><circle cx="786.1" cy="367.5" r="9.4"/><circle cx="795.2" cy="367.6" r="9.4"/><circle cx="804.7" cy="366.6" r="9.4"/><circle cx="813.9" cy="365.5" r="9.4"/><circle cx="822.6" cy="366.3" r="9.4"/><circle cx="833.8" cy="366.9" r="9.4"/><circle cx="840.2" cy="366.1" r="9.4"/><circle cx="851.3" cy="367.4" r="9.4"/><circle cx="860.2" cy="366.1" r="9.4"/><circle cx="868.2" cy="366.7" r="9.4"/><circle cx="876.1" cy="367.4" r="9.4"/><circle cx="885.8" cy="366.3" r="9.4"/><circle cx="896.4" cy="367.8" r="9.4"/><circle cx="905.3" cy="366.9" r="9.4"/><circle cx="914.9" cy="367.7" r="9.4"/><circle cx="922.2" cy="367.6" r="9.4"/><circle cx="575.4" cy="375.3" r="9.4"/><circle cx="584.8" cy="373.5" r="9.4"/><circle cx="594.4" cy="374.2" r="9.4"/><circle cx="604.3" cy="373.4" r="9.4"/><circle cx="610.8" cy="373.4" r="9.4"/><circle cx="620.0" cy="373.8" r="9.4"/><circle cx="630.6" cy="373.6" r="9.4"/><circle cx="640.5" cy="372.9" r="9.4"/><circle cx="646.6" cy="373.2" r="9.4"/><circle cx="656.3" cy="372.8" r="9.4"/><circle cx="666.2" cy="375.2" r="9.4"/><circle cx="675.8" cy="373.8" r="9.4"/><circle cx="683.7" cy="374.8" r="9.4"/><circle cx="693.7" cy="375.4" r="9.4"/><circle cx="701.0" cy="375.0" r="9.4"/><circle cx="711.0" cy="373.1" r="9.4"/><circle cx="718.9" cy="374.6" r="9.4"/><circle cx="729.5" cy="374.3" r="9.4"/><circle cx="737.0" cy="375.4" r="9.4"/><circle cx="746.8" cy="372.7" r="9.4"/><circle cx="755.5" cy="373.4" r="9.4"/><circle cx="766.4" cy="373.0" r="9.4"/><circle cx="773.9" cy="374.8" r="9.4"/><circle cx="783.1" cy="374.0" r="9.4"/><circle cx="791.3" cy="374.3" r="9.4"/><circle cx="800.3" cy="374.0" r="9.4"/><circle cx="808.6" cy="374.3" r="9.4"/><circle cx="818.5" cy="373.2" r="9.4"/><circle cx="827.5" cy="373.8" r="9.4"/><circle cx="836.5" cy="373.9" r="9.4"/><circle cx="846.7" cy="374.5" r="9.4"/><circle cx="854.5" cy="373.4" r="9.4"/><circle cx="865.2" cy="374.7" r="9.4"/><circle cx="873.5" cy="374.6" r="9.4"/><circle cx="881.3" cy="375.6" r="9.4"/><circle cx="889.6" cy="375.0" r="9.4"/><circle cx="901.0" cy="374.0" r="9.4"/><circle cx="909.4" cy="375.0" r="9.4"/><circle cx="571.4" cy="380.5" r="9.4"/><circle cx="581.3" cy="382.2" r="9.4"/><circle cx="590.0" cy="382.6" r="9.4"/><circle cx="597.1" cy="381.0" r="9.4"/><circle cx="608.1" cy="382.0" r="9.4"/><circle cx="615.5" cy="382.3" r="9.4"/><circle cx="624.6" cy="381.3" r="9.4"/><circle cx="633.6" cy="382.3" r="9.4"/><circle cx="643.9" cy="382.7" r="9.4"/><circle cx="653.5" cy="381.0" r="9.4"/><circle cx="662.1" cy="382.0" r="9.4"/><circle cx="672.0" cy="382.6" r="9.4"/><circle cx="680.5" cy="381.1" r="9.4"/><circle cx="689.1" cy="380.8" r="9.4"/><circle cx="698.9" cy="380.8" r="9.4"/><circle cx="706.7" cy="380.9" r="9.4"/><circle cx="716.2" cy="380.9" r="9.4"/><circle cx="724.8" cy="382.5" r="9.4"/><circle cx="732.9" cy="383.1" r="9.4"/><circle cx="742.1" cy="381.4" r="9.4"/><circle cx="752.2" cy="381.4" r="9.4"/><circle cx="759.0" cy="380.6" r="9.4"/><circle cx="768.0" cy="383.1" r="9.4"/><circle cx="778.1" cy="380.5" r="9.4"/><circle cx="787.4" cy="380.9" r="9.4"/><circle cx="797.1" cy="382.0" r="9.4"/><circle cx="804.7" cy="380.7" r="9.4"/><circle cx="815.0" cy="381.8" r="9.4"/><circle cx="824.7" cy="382.6" r="9.4"/><circle cx="832.4" cy="380.4" r="9.4"/><circle cx="842.8" cy="380.5" r="9.4"/><circle cx="851.3" cy="383.4" r="9.4"/><circle cx="859.5" cy="381.3" r="9.4"/><circle cx="869.9" cy="382.6" r="9.4"/><circle cx="877.6" cy="382.1" r="9.4"/><circle cx="886.8" cy="383.2" r="9.4"/><circle cx="894.0" cy="381.5" r="9.4"/><circle cx="903.5" cy="383.4" r="9.4"/><circle cx="576.6" cy="390.3" r="9.4"/><circle cx="586.2" cy="390.8" r="9.4"/><circle cx="595.1" cy="389.6" r="9.4"/><circle cx="602.3" cy="390.8" r="9.4"/><circle cx="611.5" cy="389.7" r="9.4"/><circle cx="621.2" cy="388.6" r="9.4"/><circle cx="629.5" cy="389.9" r="9.4"/><circle cx="639.8" cy="388.9" r="9.4"/><circle cx="646.6" cy="391.2" r="9.4"/><circle cx="657.0" cy="388.2" r="9.4"/><circle cx="664.8" cy="389.0" r="9.4"/><circle cx="674.2" cy="390.6" r="9.4"/><circle cx="684.7" cy="391.0" r="9.4"/><circle cx="693.1" cy="389.8" r="9.4"/><circle cx="702.1" cy="390.4" r="9.4"/><circle cx="711.6" cy="390.7" r="9.4"/><circle cx="721.0" cy="390.5" r="9.4"/><circle cx="729.3" cy="390.4" r="9.4"/><circle cx="736.8" cy="390.1" r="9.4"/><circle cx="747.3" cy="389.4" r="9.4"/><circle cx="755.2" cy="389.1" r="9.4"/><circle cx="766.5" cy="390.1" r="9.4"/><circle cx="774.0" cy="388.5" r="9.4"/><circle cx="784.4" cy="389.5" r="9.4"/><circle cx="792.2" cy="388.5" r="9.4"/><circle cx="800.3" cy="389.8" r="9.4"/><circle cx="810.8" cy="390.0" r="9.4"/><circle cx="817.5" cy="388.5" r="9.4"/><circle cx="827.7" cy="388.3" r="9.4"/><circle cx="838.5" cy="389.9" r="9.4"/><circle cx="845.0" cy="390.0" r="9.4"/><circle cx="854.6" cy="390.3" r="9.4"/><circle cx="864.0" cy="389.5" r="9.4"/><circle cx="871.9" cy="391.2" r="9.4"/><circle cx="882.4" cy="390.4" r="9.4"/><circle cx="889.9" cy="388.8" r="9.4"/><circle cx="900.2" cy="389.8" r="9.4"/><circle cx="907.5" cy="390.9" r="9.4"/><circle cx="571.6" cy="398.1" r="9.4"/><circle cx="579.2" cy="398.0" r="9.4"/><circle cx="589.4" cy="396.5" r="9.4"/><circle cx="597.2" cy="398.0" r="9.4"/><circle cx="607.3" cy="397.3" r="9.4"/><circle cx="615.1" cy="398.5" r="9.4"/><circle cx="625.3" cy="398.5" r="9.4"/><circle cx="633.7" cy="397.6" r="9.4"/><circle cx="643.2" cy="396.1" r="9.4"/><circle cx="653.4" cy="396.4" r="9.4"/><circle cx="661.7" cy="397.7" r="9.4"/><circle cx="670.7" cy="398.6" r="9.4"/><circle cx="680.6" cy="397.8" r="9.4"/><circle cx="689.2" cy="396.9" r="9.4"/><circle cx="696.6" cy="399.0" r="9.4"/><circle cx="705.1" cy="398.7" r="9.4"/><circle cx="715.0" cy="397.4" r="9.4"/><circle cx="723.9" cy="397.0" r="9.4"/><circle cx="734.9" cy="398.1" r="9.4"/><circle cx="742.5" cy="396.7" r="9.4"/><circle cx="750.5" cy="396.2" r="9.4"/><circle cx="759.6" cy="398.7" r="9.4"/><circle cx="770.2" cy="396.9" r="9.4"/><circle cx="779.1" cy="397.4" r="9.4"/><circle cx="788.1" cy="396.6" r="9.4"/><circle cx="797.4" cy="396.6" r="9.4"/><circle cx="806.9" cy="398.8" r="9.4"/><circle cx="815.4" cy="396.4" r="9.4"/><circle cx="823.5" cy="397.2" r="9.4"/><circle cx="831.7" cy="399.0" r="9.4"/><circle cx="842.3" cy="398.4" r="9.4"/><circle cx="849.2" cy="398.3" r="9.4"/><circle cx="858.5" cy="398.0" r="9.4"/><circle cx="868.9" cy="398.2" r="9.4"/><circle cx="876.7" cy="396.5" r="9.4"/><circle cx="885.3" cy="396.3" r="9.4"/><circle cx="896.7" cy="397.0" r="9.4"/><circle cx="903.5" cy="396.4" r="9.4"/><circle cx="576.2" cy="406.2" r="9.4"/><circle cx="586.2" cy="404.9" r="9.4"/><circle cx="594.9" cy="405.4" r="9.4"/><circle cx="602.5" cy="406.4" r="9.4"/><circle cx="610.9" cy="405.2" r="9.4"/><circle cx="619.6" cy="404.4" r="9.4"/><circle cx="628.7" cy="404.9" r="9.4"/><circle cx="638.5" cy="406.2" r="9.4"/><circle cx="647.5" cy="404.8" r="9.4"/><circle cx="657.8" cy="404.7" r="9.4"/><circle cx="665.8" cy="405.5" r="9.4"/><circle cx="675.2" cy="405.3" r="9.4"/><circle cx="683.7" cy="404.9" r="9.4"/><circle cx="693.2" cy="404.2" r="9.4"/><circle cx="702.0" cy="405.8" r="9.4"/><circle cx="712.1" cy="406.3" r="9.4"/><circle cx="719.6" cy="405.2" r="9.4"/><circle cx="727.6" cy="404.6" r="9.4"/><circle cx="736.8" cy="404.4" r="9.4"/><circle cx="746.6" cy="405.1" r="9.4"/><circle cx="756.4" cy="404.7" r="9.4"/><circle cx="765.1" cy="405.2" r="9.4"/><circle cx="774.5" cy="406.3" r="9.4"/><circle cx="783.1" cy="406.3" r="9.4"/><circle cx="791.0" cy="404.9" r="9.4"/><circle cx="802.5" cy="404.8" r="9.4"/><circle cx="809.3" cy="405.9" r="9.4"/><circle cx="817.6" cy="404.6" r="9.4"/><circle cx="826.8" cy="403.9" r="9.4"/><circle cx="836.0" cy="403.8" r="9.4"/><circle cx="846.0" cy="406.6" r="9.4"/><circle cx="855.2" cy="406.3" r="9.4"/><circle cx="862.8" cy="403.8" r="9.4"/><circle cx="873.8" cy="404.2" r="9.4"/><circle cx="882.9" cy="405.5" r="9.4"/><circle cx="889.8" cy="406.1" r="9.4"/><circle cx="898.7" cy="405.7" r="9.4"/><circle cx="908.2" cy="404.8" r="9.4"/><circle cx="570.7" cy="413.7" r="9.4"/><circle cx="579.6" cy="413.4" r="9.4"/><circle cx="590.2" cy="412.9" r="9.4"/><circle cx="597.9" cy="413.1" r="9.4"/><circle cx="608.8" cy="412.4" r="9.4"/><circle cx="615.1" cy="411.8" r="9.4"/><circle cx="625.5" cy="412.0" r="9.4"/><circle cx="633.5" cy="414.0" r="9.4"/><circle cx="642.3" cy="412.3" r="9.4"/><circle cx="653.7" cy="412.4" r="9.4"/><circle cx="661.2" cy="413.8" r="9.4"/><circle cx="670.3" cy="414.5" r="9.4"/><circle cx="678.1" cy="413.5" r="9.4"/><circle cx="687.8" cy="414.1" r="9.4"/><circle cx="698.3" cy="414.3" r="9.4"/><circle cx="706.6" cy="412.2" r="9.4"/><circle cx="714.4" cy="411.9" r="9.4"/><circle cx="724.1" cy="412.8" r="9.4"/><circle cx="732.9" cy="414.2" r="9.4"/><circle cx="741.8" cy="413.4" r="9.4"/><circle cx="751.6" cy="413.0" r="9.4"/><circle cx="761.9" cy="412.0" r="9.4"/><circle cx="768.5" cy="411.8" r="9.4"/><circle cx="779.2" cy="413.7" r="9.4"/><circle cx="787.1" cy="413.3" r="9.4"/><circle cx="797.7" cy="414.0" r="9.4"/><circle cx="805.7" cy="412.0" r="9.4"/><circle cx="813.8" cy="412.2" r="9.4"/><circle cx="824.8" cy="412.5" r="9.4"/><circle cx="832.1" cy="412.1" r="9.4"/><circle cx="841.5" cy="413.6" r="9.4"/><circle cx="849.4" cy="414.1" r="9.4"/><circle cx="858.5" cy="413.4" r="9.4"/><circle cx="868.9" cy="414.3" r="9.4"/><circle cx="878.4" cy="413.4" r="9.4"/><circle cx="887.4" cy="412.7" r="9.4"/><circle cx="895.3" cy="411.7" r="9.4"/><circle cx="903.4" cy="414.3" r="9.4"/><circle cx="914.4" cy="413.4" r="9.4"/><circle cx="922.0" cy="412.4" r="9.4"/><circle cx="566.2" cy="421.0" r="9.4"/><circle cx="574.9" cy="420.6" r="9.4"/><circle cx="586.5" cy="419.7" r="9.4"/><circle cx="593.0" cy="420.7" r="9.4"/><circle cx="602.0" cy="421.7" r="9.4"/><circle cx="610.7" cy="422.4" r="9.4"/><circle cx="620.2" cy="422.3" r="9.4"/><circle cx="629.1" cy="420.7" r="9.4"/><circle cx="638.4" cy="422.1" r="9.4"/><circle cx="646.5" cy="420.4" r="9.4"/><circle cx="657.4" cy="421.2" r="9.4"/><circle cx="666.0" cy="422.3" r="9.4"/><circle cx="674.1" cy="422.0" r="9.4"/><circle cx="684.7" cy="419.8" r="9.4"/><circle cx="691.9" cy="420.3" r="9.4"/><circle cx="703.0" cy="421.2" r="9.4"/><circle cx="710.1" cy="420.8" r="9.4"/><circle cx="720.0" cy="420.8" r="9.4"/><circle cx="729.3" cy="421.5" r="9.4"/><circle cx="738.4" cy="419.8" r="9.4"/><circle cx="747.2" cy="422.1" r="9.4"/><circle cx="755.0" cy="419.6" r="9.4"/><circle cx="763.7" cy="421.4" r="9.4"/><circle cx="773.7" cy="419.9" r="9.4"/><circle cx="781.8" cy="420.6" r="9.4"/><circle cx="790.8" cy="422.0" r="9.4"/><circle cx="801.7" cy="421.9" r="9.4"/><circle cx="810.0" cy="420.1" r="9.4"/><circle cx="818.9" cy="421.6" r="9.4"/><circle cx="826.6" cy="419.4" r="9.4"/><circle cx="837.0" cy="420.3" r="9.4"/><circle cx="845.9" cy="420.2" r="9.4"/><circle cx="854.9" cy="420.5" r="9.4"/><circle cx="862.7" cy="421.2" r="9.4"/><circle cx="872.2" cy="420.7" r="9.4"/><circle cx="882.5" cy="420.3" r="9.4"/><circle cx="891.1" cy="421.5" r="9.4"/><circle cx="900.9" cy="420.5" r="9.4"/><circle cx="908.5" cy="420.1" r="9.4"/><circle cx="918.7" cy="422.4" r="9.4"/><circle cx="562.3" cy="427.6" r="9.4"/><circle cx="570.7" cy="427.8" r="9.4"/><circle cx="581.4" cy="428.8" r="9.4"/><circle cx="590.7" cy="427.7" r="9.4"/><circle cx="599.5" cy="427.7" r="9.4"/><circle cx="608.8" cy="428.5" r="9.4"/><circle cx="617.1" cy="428.2" r="9.4"/><circle cx="626.1" cy="427.4" r="9.4"/><circle cx="633.9" cy="428.5" r="9.4"/><circle cx="644.1" cy="428.6" r="9.4"/><circle cx="653.0" cy="430.0" r="9.4"/><circle cx="663.0" cy="428.0" r="9.4"/><circle cx="671.4" cy="428.7" r="9.4"/><circle cx="679.3" cy="427.8" r="9.4"/><circle cx="687.5" cy="429.7" r="9.4"/><circle cx="696.3" cy="427.3" r="9.4"/><circle cx="707.8" cy="428.8" r="9.4"/><circle cx="715.6" cy="428.8" r="9.4"/><circle cx="724.8" cy="429.7" r="9.4"/><circle cx="733.8" cy="427.7" r="9.4"/><circle cx="741.2" cy="428.6" r="9.4"/><circle cx="751.3" cy="428.3" r="9.4"/><circle cx="760.0" cy="429.5" r="9.4"/><circle cx="768.9" cy="429.0" r="9.4"/><circle cx="777.4" cy="429.5" r="9.4"/><circle cx="788.0" cy="429.4" r="9.4"/><circle cx="796.5" cy="429.4" r="9.4"/><circle cx="806.8" cy="429.5" r="9.4"/><circle cx="815.0" cy="429.2" r="9.4"/><circle cx="824.0" cy="428.2" r="9.4"/><circle cx="831.9" cy="429.2" r="9.4"/><circle cx="840.7" cy="428.8" r="9.4"/><circle cx="850.2" cy="428.4" r="9.4"/><circle cx="860.7" cy="430.1" r="9.4"/><circle cx="869.9" cy="429.6" r="9.4"/><circle cx="878.3" cy="427.9" r="9.4"/><circle cx="888.0" cy="429.9" r="9.4"/><circle cx="896.5" cy="427.8" r="9.4"/><circle cx="903.7" cy="427.3" r="9.4"/><circle cx="913.5" cy="430.0" r="9.4"/><circle cx="550.2" cy="435.8" r="9.4"/><circle cx="558.2" cy="435.4" r="9.4"/><circle cx="568.3" cy="436.2" r="9.4"/><circle cx="575.4" cy="437.1" r="9.4"/><circle cx="584.9" cy="435.0" r="9.4"/><circle cx="593.7" cy="435.1" r="9.4"/><circle cx="603.4" cy="437.0" r="9.4"/><circle cx="610.8" cy="435.9" r="9.4"/><circle cx="621.5" cy="436.0" r="9.4"/><circle cx="628.6" cy="437.3" r="9.4"/><circle cx="640.2" cy="437.7" r="9.4"/><circle cx="649.0" cy="435.2" r="9.4"/><circle cx="657.6" cy="436.6" r="9.4"/><circle cx="666.2" cy="435.3" r="9.4"/><circle cx="675.0" cy="436.9" r="9.4"/><circle cx="683.8" cy="435.1" r="9.4"/><circle cx="693.4" cy="435.0" r="9.4"/><circle cx="703.0" cy="437.5" r="9.4"/><circle cx="712.1" cy="435.1" r="9.4"/><circle cx="720.3" cy="435.2" r="9.4"/><circle cx="730.2" cy="436.7" r="9.4"/><circle cx="736.6" cy="436.1" r="9.4"/><circle cx="745.8" cy="436.0" r="9.4"/><circle cx="755.3" cy="436.5" r="9.4"/><circle cx="764.9" cy="435.8" r="9.4"/><circle cx="773.5" cy="436.0" r="9.4"/><circle cx="781.6" cy="437.9" r="9.4"/><circle cx="793.2" cy="435.1" r="9.4"/><circle cx="800.5" cy="435.5" r="9.4"/><circle cx="808.9" cy="437.0" r="9.4"/><circle cx="819.3" cy="436.2" r="9.4"/><circle cx="829.3" cy="435.2" r="9.4"/><circle cx="836.7" cy="437.5" r="9.4"/><circle cx="846.5" cy="435.2" r="9.4"/><circle cx="855.5" cy="436.9" r="9.4"/><circle cx="864.6" cy="437.5" r="9.4"/><circle cx="872.2" cy="436.0" r="9.4"/><circle cx="881.5" cy="436.7" r="9.4"/><circle cx="890.4" cy="436.1" r="9.4"/><circle cx="900.3" cy="437.1" r="9.4"/><circle cx="908.5" cy="436.1" r="9.4"/><circle cx="918.5" cy="435.1" r="9.4"/><circle cx="516.4" cy="442.9" r="9.4"/><circle cx="527.5" cy="445.4" r="9.4"/><circle cx="534.9" cy="445.4" r="9.4"/><circle cx="543.9" cy="444.9" r="9.4"/><circle cx="553.7" cy="444.7" r="9.4"/><circle cx="562.8" cy="442.9" r="9.4"/><circle cx="570.5" cy="443.1" r="9.4"/><circle cx="579.3" cy="444.0" r="9.4"/><circle cx="588.4" cy="445.8" r="9.4"/><circle cx="597.1" cy="443.8" r="9.4"/><circle cx="608.6" cy="444.4" r="9.4"/><circle cx="617.7" cy="445.1" r="9.4"/><circle cx="625.0" cy="443.8" r="9.4"/><circle cx="635.3" cy="444.7" r="9.4"/><circle cx="642.4" cy="444.9" r="9.4"/><circle cx="651.2" cy="444.1" r="9.4"/><circle cx="661.8" cy="444.9" r="9.4"/><circle cx="669.7" cy="443.4" r="9.4"/><circle cx="679.6" cy="442.9" r="9.4"/><circle cx="689.4" cy="444.9" r="9.4"/><circle cx="696.2" cy="443.5" r="9.4"/><circle cx="707.9" cy="445.5" r="9.4"/><circle cx="714.6" cy="444.2" r="9.4"/><circle cx="723.9" cy="444.1" r="9.4"/><circle cx="732.7" cy="445.0" r="9.4"/><circle cx="742.0" cy="443.4" r="9.4"/><circle cx="750.9" cy="445.7" r="9.4"/><circle cx="760.7" cy="445.4" r="9.4"/><circle cx="769.2" cy="443.8" r="9.4"/><circle cx="777.5" cy="442.8" r="9.4"/><circle cx="788.5" cy="443.2" r="9.4"/><circle cx="795.1" cy="445.1" r="9.4"/><circle cx="804.2" cy="443.9" r="9.4"/><circle cx="815.6" cy="443.8" r="9.4"/><circle cx="822.3" cy="444.0" r="9.4"/><circle cx="833.4" cy="443.5" r="9.4"/><circle cx="841.5" cy="444.4" r="9.4"/><circle cx="849.7" cy="444.1" r="9.4"/><circle cx="859.9" cy="444.9" r="9.4"/><circle cx="867.8" cy="445.0" r="9.4"/><circle cx="876.3" cy="443.4" r="9.4"/><circle cx="886.7" cy="444.9" r="9.4"/><circle cx="896.1" cy="444.1" r="9.4"/><circle cx="903.7" cy="445.0" r="9.4"/><circle cx="914.1" cy="443.3" r="9.4"/><circle cx="921.2" cy="444.2" r="9.4"/><circle cx="522.9" cy="451.3" r="9.4"/><circle cx="531.4" cy="450.8" r="9.4"/><circle cx="548.4" cy="450.6" r="9.4"/><circle cx="556.9" cy="452.4" r="9.4"/><circle cx="567.9" cy="451.8" r="9.4"/><circle cx="575.7" cy="451.0" r="9.4"/><circle cx="585.2" cy="452.1" r="9.4"/><circle cx="593.6" cy="452.6" r="9.4"/><circle cx="603.3" cy="451.5" r="9.4"/><circle cx="611.6" cy="453.3" r="9.4"/><circle cx="621.1" cy="452.4" r="9.4"/><circle cx="630.8" cy="453.5" r="9.4"/><circle cx="639.4" cy="452.0" r="9.4"/><circle cx="648.0" cy="451.5" r="9.4"/><circle cx="656.4" cy="452.2" r="9.4"/><circle cx="666.9" cy="453.5" r="9.4"/><circle cx="676.4" cy="450.9" r="9.4"/><circle cx="684.3" cy="452.9" r="9.4"/><circle cx="692.5" cy="451.5" r="9.4"/><circle cx="702.8" cy="453.3" r="9.4"/><circle cx="709.5" cy="452.1" r="9.4"/><circle cx="718.8" cy="451.8" r="9.4"/><circle cx="729.7" cy="452.2" r="9.4"/><circle cx="737.8" cy="452.1" r="9.4"/><circle cx="747.0" cy="452.3" r="9.4"/><circle cx="754.7" cy="452.0" r="9.4"/><circle cx="765.6" cy="452.6" r="9.4"/><circle cx="774.0" cy="451.3" r="9.4"/><circle cx="783.1" cy="452.6" r="9.4"/><circle cx="792.0" cy="451.7" r="9.4"/><circle cx="800.4" cy="452.1" r="9.4"/><circle cx="809.4" cy="450.6" r="9.4"/><circle cx="817.8" cy="452.3" r="9.4"/><circle cx="829.4" cy="450.8" r="9.4"/><circle cx="836.8" cy="452.0" r="9.4"/><circle cx="846.3" cy="451.9" r="9.4"/><circle cx="854.4" cy="451.5" r="9.4"/><circle cx="863.3" cy="450.9" r="9.4"/><circle cx="872.8" cy="453.5" r="9.4"/><circle cx="882.7" cy="452.3" r="9.4"/><circle cx="892.0" cy="451.6" r="9.4"/><circle cx="899.5" cy="451.2" r="9.4"/><circle cx="910.5" cy="453.0" r="9.4"/><circle cx="918.0" cy="452.6" r="9.4"/><circle cx="925.7" cy="451.8" r="9.4"/><circle cx="516.1" cy="458.4" r="9.4"/><circle cx="552.7" cy="458.4" r="9.4"/><circle cx="563.2" cy="461.3" r="9.4"/><circle cx="572.2" cy="459.7" r="9.4"/><circle cx="580.4" cy="460.8" r="9.4"/><circle cx="589.9" cy="460.1" r="9.4"/><circle cx="599.1" cy="459.3" r="9.4"/><circle cx="606.1" cy="460.9" r="9.4"/><circle cx="617.5" cy="461.3" r="9.4"/><circle cx="625.8" cy="459.0" r="9.4"/><circle cx="634.0" cy="459.2" r="9.4"/><circle cx="643.7" cy="459.4" r="9.4"/><circle cx="652.8" cy="458.6" r="9.4"/><circle cx="660.7" cy="458.7" r="9.4"/><circle cx="670.0" cy="461.0" r="9.4"/><circle cx="680.5" cy="459.4" r="9.4"/><circle cx="688.2" cy="459.3" r="9.4"/><circle cx="696.1" cy="460.8" r="9.4"/><circle cx="706.8" cy="460.2" r="9.4"/><circle cx="717.0" cy="459.1" r="9.4"/><circle cx="724.7" cy="458.6" r="9.4"/><circle cx="734.7" cy="459.7" r="9.4"/><circle cx="743.9" cy="458.9" r="9.4"/><circle cx="750.6" cy="461.2" r="9.4"/><circle cx="761.9" cy="459.7" r="9.4"/><circle cx="769.9" cy="459.2" r="9.4"/><circle cx="778.2" cy="460.3" r="9.4"/><circle cx="786.4" cy="460.4" r="9.4"/><circle cx="795.2" cy="459.6" r="9.4"/><circle cx="805.7" cy="458.9" r="9.4"/><circle cx="814.6" cy="460.4" r="9.4"/><circle cx="824.7" cy="459.1" r="9.4"/><circle cx="831.4" cy="460.5" r="9.4"/><circle cx="842.9" cy="459.9" r="9.4"/><circle cx="849.9" cy="458.9" r="9.4"/><circle cx="858.3" cy="461.0" r="9.4"/><circle cx="869.1" cy="458.7" r="9.4"/><circle cx="876.2" cy="458.6" r="9.4"/><circle cx="886.6" cy="458.6" r="9.4"/><circle cx="897.0" cy="461.1" r="9.4"/><circle cx="903.2" cy="460.9" r="9.4"/><circle cx="913.8" cy="459.4" r="9.4"/><circle cx="558.2" cy="468.2" r="9.4"/><circle cx="567.4" cy="467.0" r="9.4"/><circle cx="574.6" cy="468.2" r="9.4"/><circle cx="583.9" cy="466.6" r="9.4"/><circle cx="593.1" cy="467.5" r="9.4"/><circle cx="602.6" cy="466.7" r="9.4"/><circle cx="613.5" cy="467.7" r="9.4"/><circle cx="622.2" cy="468.2" r="9.4"/><circle cx="631.3" cy="466.7" r="9.4"/><circle cx="640.0" cy="467.6" r="9.4"/><circle cx="648.1" cy="468.8" r="9.4"/><circle cx="656.2" cy="466.2" r="9.4"/><circle cx="665.8" cy="468.7" r="9.4"/><circle cx="676.1" cy="466.8" r="9.4"/><circle cx="683.7" cy="468.5" r="9.4"/><circle cx="693.1" cy="468.1" r="9.4"/><circle cx="701.2" cy="467.0" r="9.4"/><circle cx="709.7" cy="469.1" r="9.4"/><circle cx="721.2" cy="466.4" r="9.4"/><circle cx="729.3" cy="467.1" r="9.4"/><circle cx="739.4" cy="466.4" r="9.4"/><circle cx="747.1" cy="469.0" r="9.4"/><circle cx="757.0" cy="467.3" r="9.4"/><circle cx="766.5" cy="467.9" r="9.4"/><circle cx="774.4" cy="468.5" r="9.4"/><circle cx="781.5" cy="468.0" r="9.4"/><circle cx="790.6" cy="466.9" r="9.4"/><circle cx="799.5" cy="467.7" r="9.4"/><circle cx="811.0" cy="467.9" r="9.4"/><circle cx="817.8" cy="467.4" r="9.4"/><circle cx="828.2" cy="466.6" r="9.4"/><circle cx="835.6" cy="468.7" r="9.4"/><circle cx="846.8" cy="467.5" r="9.4"/><circle cx="854.8" cy="466.2" r="9.4"/><circle cx="863.4" cy="467.8" r="9.4"/><circle cx="872.3" cy="467.0" r="9.4"/><circle cx="882.0" cy="466.7" r="9.4"/><circle cx="892.1" cy="466.4" r="9.4"/><circle cx="516.8" cy="476.1" r="9.4"/><circle cx="552.5" cy="475.6" r="9.4"/><circle cx="562.5" cy="475.0" r="9.4"/><circle cx="571.0" cy="474.3" r="9.4"/><circle cx="579.9" cy="476.8" r="9.4"/><circle cx="588.7" cy="474.9" r="9.4"/><circle cx="597.0" cy="474.6" r="9.4"/><circle cx="608.5" cy="476.2" r="9.4"/><circle cx="616.4" cy="475.5" r="9.4"/><circle cx="626.4" cy="474.6" r="9.4"/><circle cx="635.0" cy="475.7" r="9.4"/><circle cx="644.5" cy="475.7" r="9.4"/><circle cx="651.5" cy="475.4" r="9.4"/><circle cx="661.2" cy="475.7" r="9.4"/><circle cx="670.5" cy="476.8" r="9.4"/><circle cx="680.4" cy="476.8" r="9.4"/><circle cx="688.1" cy="474.8" r="9.4"/><circle cx="698.9" cy="475.5" r="9.4"/><circle cx="707.2" cy="474.0" r="9.4"/><circle cx="715.5" cy="476.5" r="9.4"/><circle cx="724.4" cy="475.2" r="9.4"/><circle cx="733.3" cy="475.0" r="9.4"/><circle cx="741.4" cy="474.3" r="9.4"/><circle cx="752.6" cy="475.0" r="9.4"/><circle cx="760.2" cy="474.1" r="9.4"/><circle cx="769.9" cy="476.8" r="9.4"/><circle cx="777.5" cy="475.8" r="9.4"/><circle cx="786.3" cy="475.6" r="9.4"/><circle cx="797.5" cy="476.9" r="9.4"/><circle cx="805.9" cy="476.4" r="9.4"/><circle cx="815.7" cy="474.1" r="9.4"/><circle cx="824.3" cy="474.8" r="9.4"/><circle cx="832.2" cy="474.5" r="9.4"/><circle cx="842.9" cy="474.3" r="9.4"/><circle cx="851.4" cy="474.3" r="9.4"/><circle cx="860.7" cy="475.2" r="9.4"/><circle cx="867.2" cy="474.7" r="9.4"/><circle cx="876.7" cy="474.0" r="9.4"/><circle cx="557.1" cy="482.3" r="9.4"/><circle cx="565.9" cy="483.3" r="9.4"/><circle cx="577.4" cy="482.2" r="9.4"/><circle cx="583.8" cy="484.5" r="9.4"/><circle cx="593.4" cy="482.9" r="9.4"/><circle cx="604.0" cy="483.2" r="9.4"/><circle cx="611.9" cy="483.4" r="9.4"/><circle cx="619.7" cy="483.0" r="9.4"/><circle cx="631.0" cy="482.6" r="9.4"/><circle cx="637.7" cy="484.2" r="9.4"/><circle cx="648.5" cy="484.6" r="9.4"/><circle cx="657.4" cy="482.2" r="9.4"/><circle cx="667.1" cy="484.2" r="9.4"/><circle cx="676.1" cy="484.3" r="9.4"/><circle cx="711.3" cy="483.3" r="9.4"/><circle cx="720.3" cy="481.9" r="9.4"/><circle cx="728.4" cy="483.2" r="9.4"/><circle cx="737.5" cy="484.6" r="9.4"/><circle cx="748.0" cy="484.3" r="9.4"/><circle cx="755.3" cy="484.7" r="9.4"/><circle cx="764.6" cy="484.3" r="9.4"/><circle cx="773.6" cy="483.6" r="9.4"/><circle cx="783.6" cy="484.6" r="9.4"/><circle cx="791.4" cy="483.4" r="9.4"/><circle cx="802.2" cy="482.8" r="9.4"/><circle cx="809.1" cy="482.6" r="9.4"/><circle cx="820.1" cy="483.6" r="9.4"/><circle cx="827.1" cy="484.7" r="9.4"/><circle cx="835.7" cy="483.4" r="9.4"/><circle cx="845.2" cy="482.9" r="9.4"/><circle cx="855.0" cy="484.7" r="9.4"/><circle cx="863.4" cy="483.2" r="9.4"/><circle cx="554.0" cy="490.5" r="9.4"/><circle cx="563.9" cy="491.1" r="9.4"/><circle cx="571.3" cy="491.3" r="9.4"/><circle cx="581.6" cy="490.2" r="9.4"/><circle cx="590.3" cy="491.3" r="9.4"/><circle cx="599.3" cy="490.2" r="9.4"/><circle cx="607.9" cy="492.1" r="9.4"/><circle cx="615.7" cy="489.8" r="9.4"/><circle cx="624.7" cy="492.0" r="9.4"/><circle cx="633.9" cy="492.2" r="9.4"/><circle cx="643.4" cy="491.3" r="9.4"/><circle cx="651.3" cy="491.3" r="9.4"/><circle cx="661.8" cy="491.1" r="9.4"/><circle cx="669.7" cy="491.6" r="9.4"/><circle cx="714.6" cy="489.6" r="9.4"/><circle cx="723.3" cy="491.4" r="9.4"/><circle cx="733.0" cy="489.9" r="9.4"/><circle cx="743.3" cy="490.4" r="9.4"/><circle cx="752.2" cy="492.1" r="9.4"/><circle cx="760.8" cy="492.1" r="9.4"/><circle cx="768.4" cy="492.5" r="9.4"/><circle cx="777.6" cy="492.2" r="9.4"/><circle cx="788.0" cy="489.6" r="9.4"/><circle cx="796.6" cy="491.1" r="9.4"/><circle cx="804.3" cy="491.9" r="9.4"/><circle cx="814.9" cy="490.6" r="9.4"/><circle cx="822.6" cy="489.8" r="9.4"/><circle cx="833.5" cy="492.5" r="9.4"/><circle cx="840.5" cy="492.0" r="9.4"/><circle cx="849.9" cy="491.6" r="9.4"/><circle cx="860.0" cy="490.7" r="9.4"/><circle cx="558.4" cy="499.9" r="9.4"/><circle cx="565.7" cy="500.0" r="9.4"/><circle cx="575.4" cy="498.2" r="9.4"/><circle cx="585.7" cy="499.1" r="9.4"/><circle cx="595.1" cy="500.3" r="9.4"/><circle cx="602.1" cy="498.2" r="9.4"/><circle cx="611.4" cy="499.5" r="9.4"/><circle cx="620.8" cy="499.8" r="9.4"/><circle cx="628.7" cy="498.2" r="9.4"/><circle cx="640.3" cy="499.7" r="9.4"/><circle cx="647.6" cy="499.8" r="9.4"/><circle cx="655.6" cy="498.9" r="9.4"/><circle cx="666.7" cy="499.5" r="9.4"/><circle cx="675.2" cy="499.0" r="9.4"/><circle cx="719.1" cy="498.8" r="9.4"/><circle cx="727.5" cy="499.0" r="9.4"/><circle cx="738.9" cy="499.4" r="9.4"/><circle cx="746.1" cy="497.9" r="9.4"/><circle cx="757.5" cy="498.9" r="9.4"/><circle cx="765.7" cy="498.0" r="9.4"/><circle cx="774.7" cy="500.2" r="9.4"/><circle cx="783.2" cy="500.0" r="9.4"/><circle cx="792.4" cy="499.2" r="9.4"/><circle cx="800.3" cy="500.1" r="9.4"/><circle cx="809.3" cy="500.1" r="9.4"/><circle cx="817.6" cy="499.3" r="9.4"/><circle cx="827.8" cy="497.6" r="9.4"/><circle cx="835.7" cy="497.5" r="9.4"/><circle cx="561.7" cy="506.8" r="9.4"/><circle cx="572.5" cy="505.9" r="9.4"/><circle cx="579.6" cy="505.3" r="9.4"/><circle cx="588.7" cy="505.5" r="9.4"/><circle cx="599.8" cy="506.9" r="9.4"/><circle cx="607.8" cy="507.1" r="9.4"/><circle cx="616.3" cy="506.0" r="9.4"/><circle cx="626.3" cy="505.1" r="9.4"/><circle cx="634.1" cy="507.1" r="9.4"/><circle cx="643.2" cy="507.7" r="9.4"/><circle cx="652.6" cy="506.0" r="9.4"/><circle cx="661.9" cy="505.9" r="9.4"/><circle cx="669.5" cy="507.6" r="9.4"/><circle cx="715.4" cy="506.4" r="9.4"/><circle cx="725.1" cy="506.7" r="9.4"/><circle cx="734.7" cy="505.2" r="9.4"/><circle cx="743.1" cy="506.9" r="9.4"/><circle cx="751.0" cy="507.4" r="9.4"/><circle cx="760.8" cy="506.5" r="9.4"/><circle cx="770.2" cy="506.4" r="9.4"/><circle cx="777.2" cy="505.4" r="9.4"/><circle cx="787.4" cy="505.9" r="9.4"/><circle cx="795.3" cy="506.6" r="9.4"/><circle cx="804.1" cy="506.3" r="9.4"/><circle cx="813.4" cy="507.1" r="9.4"/><circle cx="822.1" cy="506.7" r="9.4"/><circle cx="833.2" cy="506.9" r="9.4"/><circle cx="566.0" cy="515.4" r="9.4"/><circle cx="612.8" cy="515.4" r="9.4"/><circle cx="620.9" cy="513.2" r="9.4"/><circle cx="630.7" cy="515.0" r="9.4"/><circle cx="639.5" cy="514.8" r="9.4"/><circle cx="648.3" cy="514.2" r="9.4"/><circle cx="658.3" cy="513.2" r="9.4"/><circle cx="665.4" cy="513.5" r="9.4"/><circle cx="721.0" cy="514.4" r="9.4"/><circle cx="729.6" cy="513.6" r="9.4"/><circle cx="737.6" cy="515.9" r="9.4"/><circle cx="745.9" cy="515.9" r="9.4"/><circle cx="755.6" cy="514.5" r="9.4"/><circle cx="766.3" cy="514.2" r="9.4"/><circle cx="773.9" cy="514.1" r="9.4"/><circle cx="784.4" cy="515.0" r="9.4"/><circle cx="791.0" cy="513.2" r="9.4"/><circle cx="801.2" cy="513.6" r="9.4"/><circle cx="809.9" cy="513.1" r="9.4"/><circle cx="819.2" cy="513.5" r="9.4"/><circle cx="826.7" cy="513.8" r="9.4"/><circle cx="562.7" cy="521.3" r="9.4"/><circle cx="608.0" cy="522.7" r="9.4"/><circle cx="616.1" cy="523.5" r="9.4"/><circle cx="625.3" cy="522.0" r="9.4"/><circle cx="633.9" cy="522.6" r="9.4"/><circle cx="644.2" cy="522.6" r="9.4"/><circle cx="652.1" cy="523.4" r="9.4"/><circle cx="662.9" cy="520.7" r="9.4"/><circle cx="715.4" cy="523.2" r="9.4"/><circle cx="723.2" cy="522.9" r="9.4"/><circle cx="732.4" cy="522.7" r="9.4"/><circle cx="741.2" cy="521.0" r="9.4"/><circle cx="751.2" cy="521.5" r="9.4"/><circle cx="759.1" cy="522.8" r="9.4"/><circle cx="770.1" cy="522.4" r="9.4"/><circle cx="778.7" cy="520.8" r="9.4"/><circle cx="788.2" cy="521.6" r="9.4"/><circle cx="797.5" cy="523.2" r="9.4"/><circle cx="804.9" cy="521.9" r="9.4"/><circle cx="813.1" cy="523.2" r="9.4"/><circle cx="823.4" cy="522.2" r="9.4"/><circle cx="567.3" cy="530.0" r="9.4"/><circle cx="610.5" cy="530.4" r="9.4"/><circle cx="620.2" cy="530.7" r="9.4"/><circle cx="629.9" cy="529.8" r="9.4"/><circle cx="639.6" cy="529.3" r="9.4"/><circle cx="648.7" cy="530.2" r="9.4"/><circle cx="658.1" cy="529.1" r="9.4"/><circle cx="719.2" cy="530.8" r="9.4"/><circle cx="728.6" cy="529.4" r="9.4"/><circle cx="738.5" cy="530.0" r="9.4"/><circle cx="748.5" cy="531.4" r="9.4"/><circle cx="756.8" cy="529.3" r="9.4"/><circle cx="764.0" cy="529.6" r="9.4"/><circle cx="775.1" cy="530.1" r="9.4"/><circle cx="784.2" cy="528.5" r="9.4"/><circle cx="791.5" cy="531.1" r="9.4"/><circle cx="801.5" cy="528.9" r="9.4"/><circle cx="808.8" cy="530.0" r="9.4"/><circle cx="820.4" cy="528.6" r="9.4"/><circle cx="827.4" cy="529.4" r="9.4"/><circle cx="606.1" cy="538.1" r="9.4"/><circle cx="635.4" cy="539.1" r="9.4"/><circle cx="644.6" cy="536.9" r="9.4"/><circle cx="652.6" cy="537.8" r="9.4"/><circle cx="724.8" cy="537.7" r="9.4"/><circle cx="733.3" cy="537.5" r="9.4"/><circle cx="743.7" cy="538.5" r="9.4"/><circle cx="750.3" cy="536.7" r="9.4"/><circle cx="761.7" cy="536.6" r="9.4"/><circle cx="768.0" cy="538.6" r="9.4"/><circle cx="777.6" cy="537.3" r="9.4"/><circle cx="787.4" cy="537.4" r="9.4"/><circle cx="796.9" cy="536.8" r="9.4"/><circle cx="805.8" cy="536.7" r="9.4"/><circle cx="815.2" cy="536.7" r="9.4"/><circle cx="567.5" cy="545.1" r="9.4"/><circle cx="639.7" cy="546.5" r="9.4"/><circle cx="647.4" cy="545.0" r="9.4"/><circle cx="729.5" cy="545.6" r="9.4"/><circle cx="737.9" cy="546.3" r="9.4"/><circle cx="747.1" cy="546.8" r="9.4"/><circle cx="755.8" cy="546.0" r="9.4"/><circle cx="765.9" cy="544.6" r="9.4"/><circle cx="775.5" cy="545.1" r="9.4"/><circle cx="783.4" cy="544.2" r="9.4"/><circle cx="792.9" cy="546.1" r="9.4"/><circle cx="802.5" cy="546.7" r="9.4"/><circle cx="570.8" cy="552.5" r="9.4"/><circle cx="643.9" cy="553.0" r="9.4"/><circle cx="725.5" cy="552.9" r="9.4"/><circle cx="732.7" cy="552.3" r="9.4"/><circle cx="743.3" cy="552.4" r="9.4"/><circle cx="751.2" cy="554.3" r="9.4"/><circle cx="760.9" cy="551.9" r="9.4"/><circle cx="770.8" cy="553.0" r="9.4"/><circle cx="777.0" cy="553.6" r="9.4"/><circle cx="788.9" cy="554.7" r="9.4"/><circle cx="796.0" cy="552.5" r="9.4"/><circle cx="804.4" cy="554.2" r="9.4"/><circle cx="638.8" cy="562.6" r="9.4"/><circle cx="647.7" cy="561.3" r="9.4"/><circle cx="693.1" cy="560.3" r="9.4"/><circle cx="702.5" cy="561.7" r="9.4"/><circle cx="710.7" cy="559.7" r="9.4"/><circle cx="721.5" cy="560.4" r="9.4"/><circle cx="729.6" cy="560.2" r="9.4"/><circle cx="738.0" cy="562.5" r="9.4"/><circle cx="748.4" cy="561.7" r="9.4"/><circle cx="757.5" cy="560.9" r="9.4"/><circle cx="765.5" cy="561.6" r="9.4"/><circle cx="772.8" cy="560.5" r="9.4"/><circle cx="782.9" cy="559.7" r="9.4"/><circle cx="793.5" cy="560.8" r="9.4"/><circle cx="799.8" cy="561.4" r="9.4"/><circle cx="572.9" cy="567.7" r="9.4"/><circle cx="579.4" cy="570.0" r="9.4"/><circle cx="597.6" cy="569.2" r="9.4"/><circle cx="642.1" cy="569.1" r="9.4"/><circle cx="679.5" cy="567.7" r="9.4"/><circle cx="689.3" cy="567.8" r="9.4"/><circle cx="697.3" cy="568.1" r="9.4"/><circle cx="566.6" cy="575.9" r="9.4"/><circle cx="574.5" cy="577.2" r="9.4"/><circle cx="585.5" cy="578.0" r="9.4"/><circle cx="595.3" cy="576.6" r="9.4"/><circle cx="603.1" cy="576.5" r="9.4"/><circle cx="640.5" cy="577.9" r="9.4"/><circle cx="685.1" cy="575.9" r="9.4"/><circle cx="691.8" cy="577.9" r="9.4"/><circle cx="590.9" cy="585.1" r="9.4"/><circle cx="599.5" cy="584.4" r="9.4"/><circle cx="689.8" cy="584.1" r="9.4"/><circle cx="697.8" cy="583.4" r="9.4"/><circle cx="605.0" cy="582.0" r="9.4"/><circle cx="1002.5" cy="214.0" r="9.4"/><circle cx="649.5" cy="556.0" r="9.4"/><circle cx="721.5" cy="542.5" r="9.4"/><circle cx="596.0" cy="349.5" r="9.4"/><circle cx="828.0" cy="164.5" r="9.4"/><circle cx="997.5" cy="164.5" r="9.4"/><circle cx="925.5" cy="144.5" r="9.4"/><circle cx="909.5" cy="377.0" r="9.4"/><circle cx="575.5" cy="375.5" r="9.4"/><circle cx="636.5" cy="543.5" r="9.4"/><circle cx="921.0" cy="457.5" r="9.4"/><circle cx="514.5" cy="469.5" r="9.4"/><circle cx="659.0" cy="535.0" r="9.4"/><circle cx="852.0" cy="180.5" r="9.4"/><circle cx="884.0" cy="471.5" r="9.4"/><circle cx="583.0" cy="585.5" r="9.4"/><circle cx="719.0" cy="564.0" r="9.4"/><circle cx="1016.0" cy="235.0" r="9.4"/><circle cx="568.5" cy="380.0" r="9.4"/><circle cx="915.5" cy="370.5" r="9.4"/><circle cx="828.0" cy="531.5" r="9.4"/><circle cx="723.5" cy="260.0" r="9.4"/><circle cx="992.5" cy="361.5" r="9.4"/><circle cx="1022.0" cy="177.0" r="9.4"/><circle cx="676.0" cy="504.5" r="9.4"/><circle cx="831.0" cy="525.5" r="9.4"/><circle cx="1017.5" cy="164.5" r="9.4"/><circle cx="520.5" cy="472.5" r="9.4"/><circle cx="923.5" cy="410.0" r="9.4"/><circle cx="685.0" cy="583.0" r="9.4"/><circle cx="1051.5" cy="234.0" r="9.4"/><circle cx="984.0" cy="313.0" r="9.4"/><circle cx="702.0" cy="558.5" r="9.4"/><circle cx="969.5" cy="241.5" r="9.4"/><circle cx="981.0" cy="298.5" r="9.4"/><circle cx="937.5" cy="147.0" r="9.4"/><circle cx="621.0" cy="533.0" r="9.4"/><circle cx="521.0" cy="464.5" r="9.4"/><circle cx="706.0" cy="569.5" r="9.4"/><circle cx="606.0" cy="521.0" r="9.4"/><circle cx="606.0" cy="526.5" r="9.4"/><circle cx="1013.0" cy="285.5" r="9.4"/><circle cx="847.0" cy="179.0" r="9.4"/><circle cx="965.5" cy="357.5" r="9.4"/><circle cx="634.5" cy="321.0" r="9.4"/><circle cx="536.5" cy="450.5" r="9.4"/><circle cx="995.0" cy="280.0" r="9.4"/><circle cx="680.5" cy="565.5" r="9.4"/><circle cx="927.0" cy="366.0" r="9.4"/><circle cx="567.0" cy="548.0" r="9.4"/><circle cx="637.5" cy="549.5" r="9.4"/><circle cx="608.5" cy="538.0" r="9.4"/><circle cx="515.5" cy="438.5" r="9.4"/><circle cx="547.5" cy="435.5" r="9.4"/><circle cx="539.5" cy="438.5" r="9.4"/><circle cx="906.0" cy="143.0" r="9.4"/><circle cx="560.5" cy="580.5" r="9.4"/><circle cx="980.5" cy="320.0" r="9.4"/><circle cx="638.0" cy="585.5" r="9.4"/><circle cx="807.0" cy="171.5" r="9.4"/><circle cx="514.5" cy="459.0" r="9.4"/><circle cx="739.0" cy="565.5" r="9.4"/><circle cx="984.5" cy="291.5" r="9.4"/><circle cx="1015.5" cy="194.5" r="9.4"/><circle cx="654.0" cy="314.5" r="9.4"/><circle cx="991.0" cy="225.5" r="9.4"/><circle cx="706.0" cy="278.0" r="9.4"/><circle cx="647.5" cy="570.0" r="9.4"/><circle cx="806.5" cy="562.5" r="9.4"/><circle cx="1052.0" cy="203.5" r="9.4"/><circle cx="614.0" cy="534.0" r="9.4"/><circle cx="774.5" cy="204.0" r="9.4"/><circle cx="1011.5" cy="232.5" r="9.4"/><circle cx="849.0" cy="495.0" r="9.4"/><circle cx="883.0" cy="161.0" r="9.4"/><circle cx="755.0" cy="566.5" r="9.4"/><circle cx="560.5" cy="421.5" r="9.4"/><circle cx="568.0" cy="393.0" r="9.4"/><circle cx="843.5" cy="498.0" r="9.4"/><circle cx="753.0" cy="255.5" r="9.4"/><circle cx="633.0" cy="329.0" r="9.4"/><circle cx="605.0" cy="576.5" r="9.4"/><circle cx="791.0" cy="173.5" r="9.4"/><circle cx="887.0" cy="150.5" r="9.4"/><circle cx="908.5" cy="388.5" r="9.4"/><circle cx="567.0" cy="560.0" r="9.4"/><circle cx="913.0" cy="402.0" r="9.4"/><circle cx="716.5" cy="554.0" r="9.4"/><circle cx="556.0" cy="426.5" r="9.4"/><circle cx="837.0" cy="502.5" r="9.4"/><circle cx="742.0" cy="257.5" r="9.4"/><circle cx="1006.0" cy="199.5" r="9.4"/><circle cx="691.0" cy="477.5" r="9.4"/><circle cx="935.5" cy="364.0" r="9.4"/><circle cx="892.5" cy="466.5" r="9.4"/><circle cx="1025.5" cy="245.5" r="9.4"/><circle cx="712.5" cy="508.5" r="9.4"/><circle cx="669.5" cy="308.0" r="9.4"/><circle cx="1005.5" cy="224.0" r="9.4"/><circle cx="1023.0" cy="285.5" r="9.4"/><circle cx="729.0" cy="258.0" r="9.4"/><circle cx="777.5" cy="187.5" r="9.4"/><circle cx="781.5" cy="179.5" r="9.4"/><circle cx="995.0" cy="285.5" r="9.4"/><circle cx="1027.0" cy="234.0" r="9.4"/><circle cx="976.5" cy="285.5" r="9.4"/><circle cx="518.0" cy="480.0" r="9.4"/><circle cx="943.0" cy="151.0" r="9.4"/><circle cx="557.5" cy="518.0" r="9.4"/><circle cx="948.5" cy="155.5" r="9.4"/><circle cx="802.5" cy="566.0" r="9.4"/><circle cx="629.0" cy="534.5" r="9.4"/><circle cx="776.5" cy="193.0" r="9.4"/><circle cx="1039.5" cy="221.5" r="9.4"/><circle cx="565.5" cy="565.5" r="9.4"/><circle cx="697.5" cy="285.0" r="9.4"/><circle cx="1021.0" cy="279.5" r="9.4"/><circle cx="984.5" cy="365.0" r="9.4"/><circle cx="713.0" cy="499.5" r="9.4"/><circle cx="1037.5" cy="209.0" r="9.4"/><circle cx="780.0" cy="566.5" r="9.4"/><circle cx="570.5" cy="534.0" r="9.4"/><circle cx="565.5" cy="414.5" r="9.4"/><circle cx="702.5" cy="575.5" r="9.4"/><circle cx="605.5" cy="543.5" r="9.4"/><circle cx="567.0" cy="409.0" r="9.4"/><circle cx="985.5" cy="225.5" r="9.4"/><circle cx="801.5" cy="173.5" r="9.4"/><circle cx="796.0" cy="565.5" r="9.4"/><circle cx="968.5" cy="164.5" r="9.4"/><circle cx="1012.0" cy="274.5" r="9.4"/><circle cx="629.0" cy="340.5" r="9.4"/><circle cx="974.0" cy="234.0" r="9.4"/><circle cx="911.0" cy="462.5" r="9.4"/><circle cx="966.0" cy="279.5" r="9.4"/><circle cx="1001.5" cy="276.5" r="9.4"/><circle cx="600.0" cy="566.0" r="9.4"/><circle cx="980.0" cy="164.5" r="9.4"/><circle cx="679.0" cy="482.5" r="9.4"/><circle cx="560.5" cy="505.0" r="9.4"/><circle cx="516.5" cy="403.5" r="9.4"/><circle cx="922.0" cy="367.5" r="9.4"/><circle cx="568.0" cy="387.0" r="9.4"/><circle cx="1005.0" cy="285.5" r="9.4"/><circle cx="674.5" cy="304.5" r="9.4"/><circle cx="1005.5" cy="164.5" r="9.4"/><circle cx="562.5" cy="533.5" r="9.4"/><circle cx="652.0" cy="549.5" r="9.4"/><circle cx="712.5" cy="272.5" r="9.4"/><circle cx="1020.5" cy="169.0" r="9.4"/><circle cx="769.0" cy="224.5" r="9.4"/><circle cx="550.5" cy="463.5" r="9.4"/><circle cx="720.0" cy="535.5" r="9.4"/><circle cx="666.0" cy="520.0" r="9.4"/><circle cx="555.0" cy="493.5" r="9.4"/><circle cx="604.0" cy="559.5" r="9.4"/><circle cx="688.0" cy="292.5" r="9.4"/><circle cx="1039.5" cy="198.0" r="9.4"/><circle cx="921.0" cy="432.5" r="9.4"/><circle cx="570.0" cy="522.0" r="9.4"/><circle cx="984.5" cy="284.5" r="9.4"/><circle cx="572.5" cy="584.0" r="9.4"/><circle cx="823.5" cy="534.0" r="9.4"/><circle cx="694.0" cy="559.5" r="9.4"/><circle cx="761.0" cy="237.0" r="9.4"/><circle cx="891.5" cy="143.0" r="9.4"/><circle cx="663.5" cy="525.5" r="9.4"/><circle cx="868.5" cy="485.5" r="9.4"/><circle cx="785.5" cy="566.0" r="9.4"/><circle cx="1018.0" cy="248.0" r="9.4"/><circle cx="1004.0" cy="240.5" r="9.4"/><circle cx="1031.0" cy="243.0" r="9.4"/><circle cx="656.0" cy="542.0" r="9.4"/><circle cx="796.0" cy="173.5" r="9.4"/><circle cx="678.5" cy="573.0" r="9.4"/><circle cx="878.0" cy="168.5" r="9.4"/><circle cx="662.0" cy="312.5" r="9.4"/><circle cx="1058.0" cy="218.5" r="9.4"/><circle cx="552.5" cy="485.5" r="9.4"/><circle cx="547.5" cy="456.0" r="9.4"/><circle cx="1044.5" cy="237.0" r="9.4"/><circle cx="919.5" cy="427.5" r="9.4"/><circle cx="637.5" cy="561.0" r="9.4"/><circle cx="561.0" cy="510.5" r="9.4"/><circle cx="960.0" cy="249.5" r="9.4"/><circle cx="1032.5" cy="195.0" r="9.4"/><circle cx="957.0" cy="270.0" r="9.4"/><circle cx="1010.5" cy="246.5" r="9.4"/><circle cx="703.0" cy="481.0" r="9.4"/><circle cx="950.5" cy="359.0" r="9.4"/><circle cx="524.0" cy="456.5" r="9.4"/><circle cx="978.0" cy="228.5" r="9.4"/><circle cx="988.5" cy="164.5" r="9.4"/><circle cx="917.0" cy="143.5" r="9.4"/><circle cx="589.5" cy="506.0" r="9.4"/><circle cx="996.0" cy="227.5" r="9.4"/><circle cx="837.5" cy="168.0" r="9.4"/><circle cx="571.0" cy="516.0" r="9.4"/><circle cx="580.0" cy="568.5" r="9.4"/><circle cx="631.5" cy="335.5" r="9.4"/><circle cx="830.5" cy="516.0" r="9.4"/><circle cx="683.0" cy="297.0" r="9.4"/><circle cx="642.0" cy="581.0" r="9.4"/><circle cx="809.0" cy="546.5" r="9.4"/><circle cx="617.0" cy="346.0" r="9.4"/><circle cx="766.0" cy="228.5" r="9.4"/><circle cx="688.5" cy="561.5" r="9.4"/><circle cx="863.0" cy="490.5" r="9.4"/><circle cx="714.5" cy="520.5" r="9.4"/><circle cx="1031.5" cy="231.0" r="9.4"/><circle cx="989.0" cy="355.0" r="9.4"/><circle cx="532.0" cy="438.5" r="9.4"/><circle cx="637.5" cy="556.0" r="9.4"/><circle cx="840.5" cy="172.5" r="9.4"/><circle cx="671.5" cy="510.0" r="9.4"/><circle cx="715.5" cy="265.5" r="9.4"/><circle cx="713.0" cy="494.5" r="9.4"/><circle cx="1057.5" cy="208.0" r="9.4"/><circle cx="964.5" cy="245.5" r="9.4"/><circle cx="982.5" cy="307.5" r="9.4"/><circle cx="983.5" cy="343.5" r="9.4"/><circle cx="566.0" cy="539.5" r="9.4"/><circle cx="931.5" cy="145.5" r="9.4"/><circle cx="855.5" cy="493.0" r="9.4"/><circle cx="552.0" cy="430.5" r="9.4"/><circle cx="974.5" cy="361.5" r="9.4"/><circle cx="771.0" cy="567.0" r="9.4"/><circle cx="593.0" cy="569.5" r="9.4"/><circle cx="911.5" cy="143.0" r="9.4"/><circle cx="608.0" cy="347.0" r="9.4"/><circle cx="675.0" cy="493.0" r="9.4"/><circle cx="637.5" cy="567.0" r="9.4"/><circle cx="1029.5" cy="285.5" r="9.4"/><circle cx="562.0" cy="574.5" r="9.4"/><circle cx="1040.0" cy="215.5" r="9.4"/><circle cx="773.0" cy="213.0" r="9.4"/><circle cx="709.0" cy="485.0" r="9.4"/><circle cx="637.5" cy="578.5" r="9.4"/><circle cx="594.5" cy="364.0" r="9.4"/><circle cx="928.0" cy="450.0" r="9.4"/><circle cx="730.5" cy="564.5" r="9.4"/><circle cx="551.0" cy="473.0" r="9.4"/><circle cx="529.0" cy="452.5" r="9.4"/><circle cx="745.5" cy="565.5" r="9.4"/><circle cx="686.0" cy="478.0" r="9.4"/><circle cx="1057.5" cy="229.5" r="9.4"/><circle cx="980.5" cy="337.5" r="9.4"/><circle cx="1007.0" cy="272.5" r="9.4"/><circle cx="970.5" cy="283.5" r="9.4"/><circle cx="761.0" cy="243.5" r="9.4"/><circle cx="702.0" cy="281.5" r="9.4"/><circle cx="514.5" cy="444.0" r="9.4"/><circle cx="586.0" cy="570.0" r="9.4"/><circle cx="1036.5" cy="226.5" r="9.4"/><circle cx="605.0" cy="570.5" r="9.4"/><circle cx="595.5" cy="358.0" r="9.4"/><circle cx="861.0" cy="180.5" r="9.4"/><circle cx="901.5" cy="465.5" r="9.4"/><circle cx="572.0" cy="559.5" r="9.4"/><circle cx="646.5" cy="314.5" r="9.4"/><circle cx="682.0" cy="578.5" r="9.4"/><circle cx="1023.0" cy="182.0" r="9.4"/><circle cx="940.5" cy="363.0" r="9.4"/><circle cx="978.0" cy="329.0" r="9.4"/><circle cx="922.5" cy="415.0" r="9.4"/><circle cx="878.0" cy="476.0" r="9.4"/><circle cx="814.5" cy="538.5" r="9.4"/><circle cx="960.5" cy="274.0" r="9.4"/><circle cx="918.5" cy="407.0" r="9.4"/><circle cx="595.0" cy="585.5" r="9.4"/><circle cx="567.5" cy="403.0" r="9.4"/><circle cx="720.0" cy="549.0" r="9.4"/><circle cx="717.5" cy="529.5" r="9.4"/><circle cx="573.5" cy="511.5" r="9.4"/><circle cx="713.0" cy="564.5" r="9.4"/><circle cx="696.5" cy="585.5" r="9.4"/><circle cx="963.5" cy="164.5" r="9.4"/><circle cx="577.5" cy="508.0" r="9.4"/><circle cx="956.5" cy="357.0" r="9.4"/><circle cx="589.0" cy="371.0" r="9.4"/><circle cx="955.5" cy="255.0" r="9.4"/><circle cx="924.0" cy="440.0" r="9.4"/><circle cx="870.5" cy="177.0" r="9.4"/><circle cx="697.5" cy="479.5" r="9.4"/><circle cx="831.5" cy="510.5" r="9.4"/><circle cx="636.0" cy="314.5" r="9.4"/><circle cx="634.0" cy="538.5" r="9.4"/><circle cx="718.5" cy="261.5" r="9.4"/><circle cx="571.0" cy="553.5" r="9.4"/><circle cx="675.5" cy="498.5" r="9.4"/><circle cx="910.0" cy="396.0" r="9.4"/><circle cx="1002.0" cy="235.5" r="9.4"/><circle cx="712.5" cy="515.0" r="9.4"/><circle cx="690.0" cy="585.5" r="9.4"/><circle cx="725.5" cy="564.5" r="9.4"/><circle cx="956.0" cy="162.0" r="9.4"/><circle cx="514.5" cy="454.0" r="9.4"/><circle cx="604.0" cy="514.0" r="9.4"/><circle cx="700.0" cy="581.5" r="9.4"/><circle cx="693.5" cy="288.0" r="9.4"/><circle cx="886.0" cy="145.5" r="9.4"/><circle cx="986.5" cy="350.0" r="9.4"/><circle cx="1003.0" cy="204.5" r="9.4"/><circle cx="771.5" cy="218.0" r="9.4"/><circle cx="1027.0" cy="197.0" r="9.4"/><circle cx="577.5" cy="585.5" r="9.4"/><circle cx="734.5" cy="256.5" r="9.4"/><circle cx="816.5" cy="164.5" r="9.4"/><circle cx="900.0" cy="143.0" r="9.4"/><circle cx="541.5" cy="451.5" r="9.4"/><circle cx="1012.0" cy="164.5" r="9.4"/><circle cx="526.5" cy="438.5" r="9.4"/><circle cx="759.5" cy="249.0" r="9.4"/><circle cx="1025.0" cy="188.5" r="9.4"/><circle cx="822.5" cy="164.5" r="9.4"/><circle cx="557.5" cy="499.0" r="9.4"/><circle cx="570.5" cy="543.0" r="9.4"/><circle cx="1033.0" cy="202.5" r="9.4"/><circle cx="581.5" cy="374.5" r="9.4"/><circle cx="558.5" cy="529.0" r="9.4"/><circle cx="602.0" cy="347.5" r="9.4"/><circle cx="596.5" cy="507.0" r="9.4"/><circle cx="566.0" cy="582.0" r="9.4"/><circle cx="908.0" cy="382.0" r="9.4"/><circle cx="637.5" cy="573.0" r="9.4"/><circle cx="954.0" cy="261.0" r="9.4"/><circle cx="708.5" cy="557.5" r="9.4"/><circle cx="554.0" cy="522.0" r="9.4"/><circle cx="583.5" cy="506.0" r="9.4"/><circle cx="988.5" cy="287.5" r="9.4"/><circle cx="624.5" cy="344.0" r="9.4"/><circle cx="1044.5" cy="200.0" r="9.4"/><circle cx="1004.0" cy="219.0" r="9.4"/><circle cx="808.0" cy="554.5" r="9.4"/><circle cx="874.0" cy="479.0" r="9.4"/><circle cx="551.5" cy="479.0" r="9.4"/><circle cx="605.5" cy="532.5" r="9.4"/><circle cx="514.5" cy="464.0" r="9.4"/><circle cx="650.5" cy="565.0" r="9.4"/><circle cx="570.0" cy="528.5" r="9.4"/><circle cx="919.0" cy="422.0" r="9.4"/><circle cx="916.5" cy="460.0" r="9.4"/><circle cx="925.0" cy="454.0" r="9.4"/><circle cx="574.5" cy="564.5" r="9.4"/><circle cx="679.0" cy="301.5" r="9.4"/><circle cx="760.0" cy="567.0" r="9.4"/><circle cx="1036.0" cy="241.0" r="9.4"/><circle cx="1021.5" cy="195.5" r="9.4"/><circle cx="676.0" cy="488.0" r="9.4"/><circle cx="775.5" cy="199.0" r="9.4"/><circle cx="765.0" cy="567.0" r="9.4"/><circle cx="1057.5" cy="223.5" r="9.4"/><circle cx="712.0" cy="489.5" r="9.4"/><circle cx="1058.5" cy="213.5" r="9.4"/><circle cx="886.0" cy="156.0" r="9.4"/><circle cx="669.0" cy="514.5" r="9.4"/><circle cx="974.5" cy="164.5" r="9.4"/><circle cx="791.0" cy="565.5" r="9.4"/><circle cx="661.5" cy="530.5" r="9.4"/><circle cx="811.5" cy="167.5" r="9.4"/><circle cx="641.0" cy="314.5" r="9.4"/><circle cx="601.0" cy="585.5" r="9.4"/><circle cx="785.5" cy="176.0" r="9.4"/><circle cx="747.5" cy="257.5" r="9.4"/><circle cx="1018.0" cy="285.5" r="9.4"/><circle cx="874.5" cy="173.5" r="9.4"/><circle cx="588.5" cy="585.5" r="9.4"/><circle cx="521.5" cy="438.5" r="9.4"/><circle cx="945.5" cy="361.5" r="9.4"/><circle cx="645.0" cy="574.5" r="9.4"/><circle cx="1021.0" cy="235.5" r="9.4"/><circle cx="675.5" cy="569.0" r="9.4"/><circle cx="601.0" cy="510.0" r="9.4"/><circle cx="866.0" cy="179.5" r="9.4"/><circle cx="1008.0" cy="228.5" r="9.4"/><circle cx="514.5" cy="474.5" r="9.4"/><circle cx="1010.0" cy="196.5" r="9.4"/><circle cx="833.5" cy="164.5" r="9.4"/><circle cx="567.5" cy="398.0" r="9.4"/><circle cx="1000.0" cy="285.5" r="9.4"/><circle cx="990.0" cy="282.0" r="9.4"/><circle cx="514.5" cy="449.0" r="9.4"/><circle cx="979.5" cy="364.0" r="9.4"/><circle cx="926.0" cy="445.0" r="9.4"/><circle cx="522.2" cy="535.4" r="9.4"/><circle cx="503.2" cy="473.4" r="9.4"/><circle cx="483.5" cy="484.1" r="9.4"/></g>
<line class="rl" x1="383.8" y1="711.3" x2="1134.9" y2="46.8"/>
<rect class="ax" x="195.1" y="5.7" width="1008.6" height="756.7"/>
<line class="tk" x1="232.3" y1="762.4" x2="232.3" y2="788.4"/>
<text class="s" transform="translate(232.3,852.8) scale(1.01,1.045)" text-anchor="middle">0.1</text>
<line class="tk" x1="376.7" y1="762.4" x2="376.7" y2="788.4"/>
<text class="s" transform="translate(376.7,852.8) scale(1.01,1.045)" text-anchor="middle">0.2</text>
<line class="tk" x1="567.5" y1="762.4" x2="567.5" y2="788.4"/>
<text class="s" transform="translate(567.5,852.8) scale(1.01,1.045)" text-anchor="middle">0.5</text>
<line class="tk" x1="711.9" y1="762.4" x2="711.9" y2="788.4"/>
<text class="s" transform="translate(711.9,852.8) scale(1.01,1.045)" text-anchor="middle">1.0</text>
<line class="tk" x1="856.2" y1="762.4" x2="856.2" y2="788.4"/>
<text class="s" transform="translate(856.2,852.8) scale(1.01,1.045)" text-anchor="middle">2.0</text>
<line class="tk" x1="1047.0" y1="762.4" x2="1047.0" y2="788.4"/>
<text class="s" transform="translate(1047.0,852.8) scale(1.01,1.045)" text-anchor="middle">5.0</text>
<line class="tk" x1="1191.4" y1="762.4" x2="1191.4" y2="788.4"/>
<text class="s" transform="translate(1191.4,852.8) scale(1.01,1.045)" text-anchor="middle">10.0</text>
<line class="tk" x1="169.1" y1="590.7" x2="195.1" y2="590.7"/>
<text class="s" transform="translate(135.1,590.7) rotate(-90) scale(1.01,1.045)" text-anchor="middle">5</text>
<line class="tk" x1="169.1" y1="427.2" x2="195.1" y2="427.2"/>
<text class="s" transform="translate(135.1,427.2) rotate(-90) scale(1.01,1.045)" text-anchor="middle">10</text>
<line class="tk" x1="169.1" y1="263.6" x2="195.1" y2="263.6"/>
<text class="s" transform="translate(135.1,263.6) rotate(-90) scale(1.01,1.045)" text-anchor="middle">20</text>
<line class="tk" x1="169.1" y1="47.4" x2="195.1" y2="47.4"/>
<text class="s" transform="translate(135.1,47.4) rotate(-90) scale(1.01,1.045)" text-anchor="middle">50</text>
<text class="s" x="699.4" y="953.6" text-anchor="middle">LPC [log scale]</text>
<text class="s" style="font-size:42px" transform="translate(33.9,383.9) rotate(-90)" text-anchor="middle">LNC [log scale]</text>
<text class="t" x="3.0" y="33.8">(a)</text>
<text class="t" x="260.4" y="78.4">Individuals (<tspan class="i">n</tspan>=1803)</text>
<text class="t" x="260.4" y="128.7">β=0.78[0.75, 0.81]</text>
<text class="t" x="260.4" y="178.9">R<tspan font-size="27.5px" dy="-17">2</tspan><tspan dy="17">=0.36</tspan></text>
<text class="t" x="258.6" y="229.2"><tspan class="i">p</tspan>&lt;0.001</text>
<g class="p"><circle cx="1730.9" cy="376.0" r="9.4"/><circle cx="1771.8" cy="421.0" r="9.4"/><circle cx="1523.0" cy="710.7" r="9.4"/><circle cx="1652.2" cy="586.7" r="9.4"/><circle cx="1694.4" cy="585.5" r="9.4"/><circle cx="1669.8" cy="628.9" r="9.4"/><circle cx="1730.8" cy="571.2" r="9.4"/><circle cx="1717.0" cy="604.9" r="9.4"/><circle cx="1727.3" cy="631.8" r="9.4"/><circle cx="1744.3" cy="653.8" r="9.4"/><circle cx="1774.3" cy="564.1" r="9.4"/><circle cx="1785.3" cy="574.5" r="9.4"/><circle cx="1787.0" cy="576.1" r="9.4"/><circle cx="1796.1" cy="627.3" r="9.4"/><circle cx="1801.9" cy="600.4" r="9.4"/><circle cx="1826.1" cy="584.4" r="9.4"/><circle cx="1840.6" cy="585.5" r="9.4"/><circle cx="1849.1" cy="566.2" r="9.4"/><circle cx="1876.4" cy="611.1" r="9.4"/><circle cx="1872.3" cy="631.8" r="9.4"/><circle cx="1869.8" cy="655.7" r="9.4"/><circle cx="1841.2" cy="655.4" r="9.4"/><circle cx="1835.8" cy="680.9" r="9.4"/><circle cx="1795.2" cy="732.9" r="9.4"/><circle cx="1796.9" cy="733.9" r="9.4"/><circle cx="1873.7" cy="564.6" r="9.4"/><circle cx="1890.3" cy="572.8" r="9.4"/><circle cx="1669.8" cy="487.8" r="9.4"/><circle cx="1724.1" cy="499.2" r="9.4"/><circle cx="1752.6" cy="502.9" r="9.4"/><circle cx="1753.7" cy="526.9" r="9.4"/><circle cx="1691.8" cy="530.6" r="9.4"/><circle cx="1709.4" cy="526.9" r="9.4"/><circle cx="1706.3" cy="537.3" r="9.4"/><circle cx="1774.6" cy="489.7" r="9.4"/><circle cx="1791.3" cy="517.8" r="9.4"/><circle cx="1796.5" cy="472.8" r="9.4"/><circle cx="1789.6" cy="486.6" r="9.4"/><circle cx="1867.1" cy="305.2" r="9.4"/><circle cx="1848.9" cy="330.4" r="9.4"/><circle cx="1885.0" cy="328.1" r="9.4"/><circle cx="1899.6" cy="361.3" r="9.4"/><circle cx="1966.2" cy="288.5" r="9.4"/><circle cx="1981.6" cy="299.3" r="9.4"/><circle cx="1975.9" cy="320.9" r="9.4"/><circle cx="1952.5" cy="335.7" r="9.4"/><circle cx="1964.5" cy="343.7" r="9.4"/><circle cx="1986.1" cy="349.4" r="9.4"/><circle cx="1973.6" cy="362.5" r="9.4"/><circle cx="1978.1" cy="273.7" r="9.4"/><circle cx="1814.2" cy="370.6" r="9.4"/><circle cx="1853.4" cy="388.2" r="9.4"/><circle cx="1828.7" cy="410.7" r="9.4"/><circle cx="1852.9" cy="406.4" r="9.4"/><circle cx="1870.0" cy="401.9" r="9.4"/><circle cx="1840.4" cy="425.6" r="9.4"/><circle cx="1884.8" cy="373.4" r="9.4"/><circle cx="1893.3" cy="415.5" r="9.4"/><circle cx="1993.9" cy="455.6" r="9.4"/><circle cx="1794.8" cy="432.6" r="9.4"/><circle cx="1807.3" cy="442.9" r="9.4"/><circle cx="1821.0" cy="440.6" r="9.4"/><circle cx="1836.9" cy="442.9" r="9.4"/><circle cx="1863.7" cy="451.4" r="9.4"/><circle cx="1843.8" cy="461.1" r="9.4"/><circle cx="1858.6" cy="466.8" r="9.4"/><circle cx="1900.9" cy="469.1" r="9.4"/><circle cx="1907.0" cy="389.4" r="9.4"/><circle cx="1937.7" cy="386.5" r="9.4"/><circle cx="1922.3" cy="403.0" r="9.4"/><circle cx="1939.4" cy="413.3" r="9.4"/><circle cx="1909.8" cy="417.8" r="9.4"/><circle cx="1899.0" cy="429.2" r="9.4"/><circle cx="1917.8" cy="446.3" r="9.4"/><circle cx="1938.3" cy="429.2" r="9.4"/><circle cx="1938.3" cy="440.6" r="9.4"/><circle cx="1922.3" cy="429.2" r="9.4"/><circle cx="1973.6" cy="421.2" r="9.4"/><circle cx="1973.6" cy="403.0" r="9.4"/><circle cx="1972.4" cy="387.1" r="9.4"/><circle cx="1982.7" cy="373.4" r="9.4"/><circle cx="1999.2" cy="433.2" r="9.4"/><circle cx="1953.1" cy="461.1" r="9.4"/><circle cx="1857.7" cy="482.6" r="9.4"/><circle cx="1882.5" cy="494.1" r="9.4"/><circle cx="1826.6" cy="513.5" r="9.4"/><circle cx="1840.4" cy="537.8" r="9.4"/><circle cx="1923.2" cy="506.7" r="9.4"/><circle cx="1968.9" cy="484.5" r="9.4"/><circle cx="1964.1" cy="502.9" r="9.4"/><circle cx="1801.6" cy="494.8" r="9.4"/><circle cx="1873.0" cy="514.5" r="9.4"/><circle cx="1926.8" cy="537.3" r="9.4"/><circle cx="1896.3" cy="542.5" r="9.4"/><circle cx="1985.3" cy="517.1" r="9.4"/><circle cx="1841.4" cy="498.0" r="9.4"/><circle cx="1902.5" cy="475.2" r="9.4"/><circle cx="1893.2" cy="530.0" r="9.4"/><circle cx="1908.7" cy="523.8" r="9.4"/><circle cx="1968.7" cy="533.1" r="9.4"/><circle cx="1970.8" cy="542.5" r="9.4"/><circle cx="1984.3" cy="531.1" r="9.4"/><circle cx="1991.5" cy="484.5" r="9.4"/><circle cx="1932.5" cy="480.4" r="9.4"/><circle cx="1888.0" cy="558.0" r="9.4"/><circle cx="1868.3" cy="533.1" r="9.4"/><circle cx="1912.8" cy="533.1" r="9.4"/><circle cx="1981.2" cy="228.6" r="9.4"/><circle cx="1983.7" cy="232.0" r="9.4"/><circle cx="1986.3" cy="246.8" r="9.4"/><circle cx="2005.7" cy="248.5" r="9.4"/><circle cx="2028.1" cy="253.9" r="9.4"/><circle cx="2052.7" cy="231.8" r="9.4"/><circle cx="1914.9" cy="574.1" r="9.4"/><circle cx="1919.7" cy="588.0" r="9.4"/><circle cx="1929.6" cy="597.9" r="9.4"/><circle cx="1991.3" cy="603.9" r="9.4"/><circle cx="2040.8" cy="592.3" r="9.4"/><circle cx="2116.4" cy="589.8" r="9.4"/><circle cx="2149.3" cy="622.5" r="9.4"/><circle cx="2044.9" cy="660.4" r="9.4"/><circle cx="1962.3" cy="701.2" r="9.4"/><circle cx="1956.7" cy="718.8" r="9.4"/><circle cx="1998.5" cy="272.0" r="9.4"/><circle cx="2065.9" cy="303.8" r="9.4"/><circle cx="2030.8" cy="322.1" r="9.4"/><circle cx="2042.0" cy="313.2" r="9.4"/><circle cx="2028.3" cy="342.0" r="9.4"/><circle cx="2042.9" cy="343.1" r="9.4"/><circle cx="2010.1" cy="361.6" r="9.4"/><circle cx="2034.0" cy="368.7" r="9.4"/><circle cx="2060.4" cy="272.5" r="9.4"/><circle cx="2075.0" cy="268.0" r="9.4"/><circle cx="2086.4" cy="281.1" r="9.4"/><circle cx="2101.2" cy="274.2" r="9.4"/><circle cx="2118.9" cy="272.5" r="9.4"/><circle cx="2145.8" cy="263.4" r="9.4"/><circle cx="2096.6" cy="294.2" r="9.4"/><circle cx="2089.8" cy="309.0" r="9.4"/><circle cx="2126.6" cy="286.2" r="9.4"/><circle cx="2108.0" cy="297.6" r="9.4"/><circle cx="2126.5" cy="329.5" r="9.4"/><circle cx="2125.1" cy="316.9" r="9.4"/><circle cx="2128.0" cy="358.2" r="9.4"/><circle cx="2167.8" cy="298.7" r="9.4"/><circle cx="2173.5" cy="342.0" r="9.4"/><circle cx="2155.5" cy="339.7" r="9.4"/><circle cx="2155.9" cy="333.1" r="9.4"/><circle cx="2165.0" cy="362.5" r="9.4"/><circle cx="2273.6" cy="33.7" r="9.4"/><circle cx="2118.3" cy="80.4" r="9.4"/><circle cx="2281.8" cy="99.4" r="9.4"/><circle cx="2218.0" cy="103.3" r="9.4"/><circle cx="2071.7" cy="109.9" r="9.4"/><circle cx="2086.5" cy="117.2" r="9.4"/><circle cx="2060.6" cy="122.7" r="9.4"/><circle cx="2124.2" cy="128.1" r="9.4"/><circle cx="2172.8" cy="121.6" r="9.4"/><circle cx="2246.6" cy="122.7" r="9.4"/><circle cx="2218.2" cy="128.9" r="9.4"/><circle cx="2204.2" cy="138.2" r="9.4"/><circle cx="2228.3" cy="148.3" r="9.4"/><circle cx="2074.6" cy="405.9" r="9.4"/><circle cx="2077.2" cy="424.4" r="9.4"/><circle cx="2099.3" cy="432.4" r="9.4"/><circle cx="2136.6" cy="432.6" r="9.4"/><circle cx="2174.5" cy="432.3" r="9.4"/><circle cx="2195.6" cy="425.5" r="9.4"/><circle cx="2193.0" cy="446.9" r="9.4"/><circle cx="2108.2" cy="461.1" r="9.4"/><circle cx="2139.2" cy="395.6" r="9.4"/><circle cx="2012.0" cy="416.7" r="9.4"/><circle cx="2088.8" cy="384.8" r="9.4"/><circle cx="2146.9" cy="375.1" r="9.4"/><circle cx="2159.4" cy="383.7" r="9.4"/><circle cx="2044.4" cy="416.5" r="9.4"/><circle cx="2047.8" cy="401.9" r="9.4"/><circle cx="2063.8" cy="388.2" r="9.4"/><circle cx="2074.0" cy="385.9" r="9.4"/><circle cx="2117.3" cy="394.3" r="9.4"/><circle cx="2107.0" cy="384.8" r="9.4"/><circle cx="2149.2" cy="416.7" r="9.4"/><circle cx="2168.5" cy="400.7" r="9.4"/><circle cx="2183.7" cy="384.8" r="9.4"/><circle cx="2032.5" cy="458.6" r="9.4"/><circle cx="2028.5" cy="465.7" r="9.4"/><circle cx="2035.3" cy="370.6" r="9.4"/><circle cx="2051.0" cy="472.0" r="9.4"/><circle cx="2033.6" cy="482.0" r="9.4"/><circle cx="2099.1" cy="489.6" r="9.4"/><circle cx="2141.4" cy="485.1" r="9.4"/><circle cx="2138.6" cy="510.4" r="9.4"/><circle cx="2190.5" cy="513.3" r="9.4"/><circle cx="2050.9" cy="531.5" r="9.4"/><circle cx="2078.8" cy="545.2" r="9.4"/><circle cx="2012.9" cy="555.2" r="9.4"/><circle cx="2017.1" cy="528.1" r="9.4"/><circle cx="2021.6" cy="505.3" r="9.4"/><circle cx="2095.9" cy="513.3" r="9.4"/><circle cx="2104.0" cy="510.4" r="9.4"/><circle cx="2005.1" cy="490.5" r="9.4"/><circle cx="2044.4" cy="498.5" r="9.4"/><circle cx="2037.6" cy="507.6" r="9.4"/><circle cx="2037.6" cy="553.1" r="9.4"/><circle cx="2050.1" cy="562.8" r="9.4"/><circle cx="2066.6" cy="562.8" r="9.4"/><circle cx="2056.9" cy="552.0" r="9.4"/><circle cx="2096.2" cy="552.9" r="9.4"/><circle cx="2098.5" cy="565.7" r="9.4"/><circle cx="2068.0" cy="183.6" r="9.4"/><circle cx="2086.8" cy="203.7" r="9.4"/><circle cx="2074.6" cy="224.2" r="9.4"/><circle cx="2109.0" cy="221.2" r="9.4"/><circle cx="2099.9" cy="243.9" r="9.4"/><circle cx="2127.4" cy="247.6" r="9.4"/><circle cx="2070.8" cy="253.1" r="9.4"/><circle cx="2150.3" cy="181.1" r="9.4"/><circle cx="2207.7" cy="156.5" r="9.4"/><circle cx="2219.8" cy="172.5" r="9.4"/><circle cx="2237.1" cy="164.2" r="9.4"/><circle cx="2251.6" cy="185.5" r="9.4"/><circle cx="2257.9" cy="224.0" r="9.4"/><circle cx="2228.2" cy="237.1" r="9.4"/><circle cx="2251.6" cy="248.5" r="9.4"/><circle cx="2192.1" cy="226.9" r="9.4"/><circle cx="2156.8" cy="246.2" r="9.4"/><circle cx="2160.8" cy="200.1" r="9.4"/><circle cx="2169.7" cy="205.8" r="9.4"/><circle cx="2164.8" cy="217.2" r="9.4"/><circle cx="2209.7" cy="211.5" r="9.4"/><circle cx="2171.6" cy="233.1" r="9.4"/><circle cx="2173.9" cy="244.5" r="9.4"/><circle cx="2272.9" cy="178.7" r="9.4"/><circle cx="2195.3" cy="291.0" r="9.4"/><circle cx="2281.8" cy="276.9" r="9.4"/><circle cx="2282.4" cy="306.9" r="9.4"/><circle cx="2233.1" cy="324.5" r="9.4"/><circle cx="2339.3" cy="314.4" r="9.4"/><circle cx="2369.8" cy="267.1" r="9.4"/><circle cx="2197.6" cy="365.3" r="9.4"/><circle cx="2183.6" cy="314.1" r="9.4"/><circle cx="2204.8" cy="270.2" r="9.4"/><circle cx="2177.1" cy="277.1" r="9.4"/><circle cx="2204.4" cy="260.0" r="9.4"/><circle cx="2407.3" cy="125.8" r="9.4"/><circle cx="2364.3" cy="71.4" r="9.4"/><circle cx="2371.6" cy="66.5" r="9.4"/><circle cx="2387.9" cy="74.5" r="9.4"/><circle cx="2344.4" cy="152.2" r="9.4"/><circle cx="2331.5" cy="426.8" r="9.4"/><circle cx="2352.2" cy="435.4" r="9.4"/><circle cx="2386.6" cy="401.2" r="9.4"/><circle cx="2421.7" cy="383.2" r="9.4"/><circle cx="2371.3" cy="168.9" r="9.4"/><circle cx="2352.0" cy="188.7" r="9.4"/><circle cx="2440.0" cy="171.2" r="9.4"/><circle cx="2456.8" cy="199.3" r="9.4"/><circle cx="2326.1" cy="236.1" r="9.4"/><circle cx="2308.2" cy="243.7" r="9.4"/><circle cx="2281.1" cy="193.0" r="9.4"/><circle cx="2297.1" cy="201.6" r="9.4"/><circle cx="2309.8" cy="198.9" r="9.4"/><circle cx="1910.1" cy="398.3" r="9.4"/><circle cx="1930.6" cy="392.7" r="9.4"/><circle cx="1917.7" cy="411.2" r="9.4"/><circle cx="1930.0" cy="413.0" r="9.4"/><circle cx="1918.3" cy="413.8" r="9.4"/><circle cx="1906.2" cy="423.2" r="9.4"/><circle cx="1929.8" cy="425.2" r="9.4"/><circle cx="1982.9" cy="364.1" r="9.4"/><circle cx="1979.8" cy="364.5" r="9.4"/><circle cx="1976.9" cy="378.8" r="9.4"/><circle cx="1975.3" cy="393.8" r="9.4"/><circle cx="1978.5" cy="413.2" r="9.4"/><circle cx="2000.7" cy="361.7" r="9.4"/><circle cx="2030.7" cy="359.9" r="9.4"/><circle cx="2056.2" cy="397.8" r="9.4"/><circle cx="2050.6" cy="409.4" r="9.4"/><circle cx="1851.6" cy="455.9" r="9.4"/><circle cx="1856.1" cy="457.0" r="9.4"/><circle cx="1853.0" cy="459.3" r="9.4"/><circle cx="1907.3" cy="476.0" r="9.4"/><circle cx="1984.6" cy="490.9" r="9.4"/><circle cx="1998.4" cy="497.1" r="9.4"/><circle cx="2025.8" cy="496.9" r="9.4"/><circle cx="2029.7" cy="490.5" r="9.4"/><circle cx="1848.0" cy="504.7" r="9.4"/><circle cx="1844.1" cy="449.0" r="9.4"/><circle cx="2022.4" cy="520.4" r="9.4"/><circle cx="2046.3" cy="549.5" r="9.4"/><circle cx="2047.6" cy="553.3" r="9.4"/><circle cx="2061.8" cy="554.7" r="9.4"/><circle cx="2087.9" cy="557.3" r="9.4"/><circle cx="2091.1" cy="559.9" r="9.4"/><circle cx="1894.8" cy="564.5" r="9.4"/><circle cx="1881.5" cy="559.3" r="9.4"/><circle cx="1892.4" cy="539.4" r="9.4"/><circle cx="2166.0" cy="239.4" r="9.4"/><circle cx="2208.6" cy="220.8" r="9.4"/><circle cx="1985.0" cy="280.1" r="9.4"/><circle cx="1989.2" cy="270.5" r="9.4"/><circle cx="2069.8" cy="273.0" r="9.4"/><circle cx="2077.3" cy="283.6" r="9.4"/><circle cx="2094.4" cy="280.6" r="9.4"/><circle cx="2117.3" cy="285.0" r="9.4"/><circle cx="2089.6" cy="299.6" r="9.4"/><circle cx="2102.4" cy="290.1" r="9.4"/><circle cx="2040.9" cy="322.5" r="9.4"/><circle cx="2038.9" cy="326.9" r="9.4"/><circle cx="2036.9" cy="345.8" r="9.4"/><circle cx="2033.7" cy="341.3" r="9.4"/><circle cx="2186.4" cy="276.0" r="9.4"/><circle cx="2174.2" cy="313.5" r="9.4"/><circle cx="2135.6" cy="331.7" r="9.4"/></g>
<line class="rl" x1="1613.9" y1="749.4" x2="2414.2" y2="59.9"/>
<rect class="ax" x="1485.8" y="5.7" width="1008.8" height="756.7"/>
<line class="tk" x1="1564.9" y1="762.4" x2="1564.9" y2="788.4"/>
<text class="s" transform="translate(1564.9,852.8) scale(1.01,1.045)" text-anchor="middle">0.2</text>
<line class="tk" x1="1801.8" y1="762.4" x2="1801.8" y2="788.4"/>
<text class="s" transform="translate(1801.8,852.8) scale(1.01,1.045)" text-anchor="middle">0.5</text>
<line class="tk" x1="1981.0" y1="762.4" x2="1981.0" y2="788.4"/>
<text class="s" transform="translate(1981.0,852.8) scale(1.01,1.045)" text-anchor="middle">1.0</text>
<line class="tk" x1="2160.2" y1="762.4" x2="2160.2" y2="788.4"/>
<text class="s" transform="translate(2160.2,852.8) scale(1.01,1.045)" text-anchor="middle">2.0</text>
<line class="tk" x1="2397.1" y1="762.4" x2="2397.1" y2="788.4"/>
<text class="s" transform="translate(2397.1,852.8) scale(1.01,1.045)" text-anchor="middle">5.0</text>
<line class="tk" x1="1459.8" y1="705.4" x2="1485.8" y2="705.4"/>
<text class="s" transform="translate(1425.8,705.4) rotate(-90) scale(1.01,1.045)" text-anchor="middle">5</text>
<line class="tk" x1="1459.8" y1="482.8" x2="1485.8" y2="482.8"/>
<text class="s" transform="translate(1425.8,482.8) rotate(-90) scale(1.01,1.045)" text-anchor="middle">10</text>
<line class="tk" x1="1459.8" y1="260.2" x2="1485.8" y2="260.2"/>
<text class="s" transform="translate(1425.8,260.2) rotate(-90) scale(1.01,1.045)" text-anchor="middle">20</text>
<text class="s" x="1990.2" y="953.6" text-anchor="middle">LPC [log scale]</text>
<text class="s" style="font-size:42px" transform="translate(1324.6,383.9) rotate(-90)" text-anchor="middle">LNC [log scale]</text>
<text class="t" x="1294.5" y="42.8">(b)</text>
<text class="t" x="1564.9" y="84.1">Species (<tspan class="i">n</tspan>=323)</text>
<text class="t" x="1564.9" y="134.3">β=0.69[0.64,0.75]</text>
<text class="t" x="1564.9" y="184.6">R<tspan font-size="27.5px" dy="-17">2</tspan><tspan dy="17">=0.45</tspan></text>
<text class="t" x="1563.1" y="234.8"><tspan class="i">p</tspan>&lt;0.001</text>
</svg></body></html>
